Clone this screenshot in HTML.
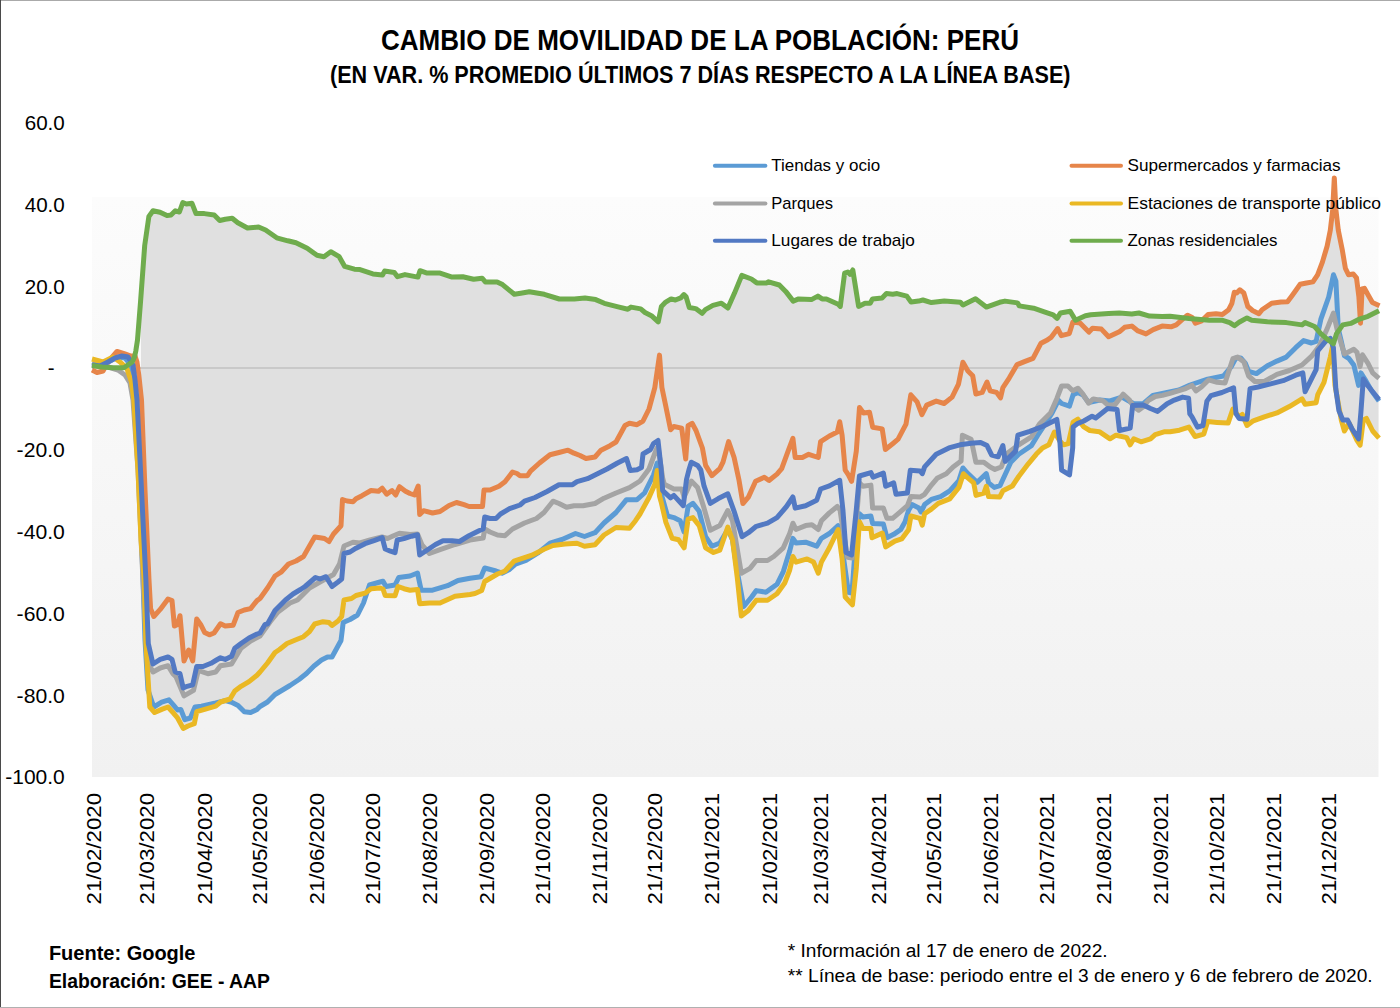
<!DOCTYPE html>
<html><head><meta charset="utf-8"><title>Cambio de movilidad de la población: Perú</title>
<style>
html,body{margin:0;padding:0;background:#fff;}
body{width:1400px;height:1008px;overflow:hidden;position:relative;font-family:"Liberation Sans", sans-serif;}
svg{position:absolute;left:0;top:0;display:block;}
svg text{font-family:"Liberation Sans", sans-serif;fill:#000;}
</style></head><body>
<svg width="1400" height="1008" viewBox="0 0 1400 1008">
<defs>
<linearGradient id="pbg" x1="0" y1="0" x2="0" y2="1">
<stop offset="0" stop-color="#fcfcfc"/><stop offset="1" stop-color="#f1f1f1"/>
</linearGradient>
</defs>
<rect x="0" y="0" width="1400" height="1008" fill="#fff"/>
<rect x="92" y="197" width="1286.5" height="580" fill="url(#pbg)"/>
<path d="M141.0,295.6 L141.5,288.8 L142.0,282.0 L142.5,275.3 L143.0,268.5 L143.5,261.7 L144.0,255.0 L144.5,248.2 L145.0,243.4 L145.5,240.0 L146.0,236.5 L146.5,233.0 L147.0,229.6 L147.5,226.1 L148.0,222.6 L148.5,219.2 L149.0,216.3 L149.5,215.6 L150.0,214.9 L150.5,214.2 L151.0,213.5 L151.5,212.8 L152.0,212.2 L152.5,211.5 L153.0,210.8 L153.5,210.9 L154.0,211.0 L154.5,211.1 L155.0,211.2 L155.5,211.3 L156.0,211.4 L156.5,211.5 L157.0,211.6 L157.5,211.7 L158.0,211.8 L158.5,211.9 L159.0,212.0 L159.5,212.1 L160.0,212.2 L160.5,212.4 L161.0,212.7 L161.5,212.9 L162.0,213.2 L162.5,213.4 L163.0,213.7 L163.5,213.9 L164.0,214.1 L164.5,214.4 L165.0,214.6 L165.5,214.9 L166.0,215.1 L166.5,215.4 L167.0,215.6 L167.5,215.5 L168.0,215.4 L168.5,215.4 L169.0,215.3 L169.5,215.2 L170.0,215.2 L170.5,215.1 L171.0,215.0 L171.5,214.5 L172.0,214.0 L172.5,213.5 L173.0,213.0 L173.5,212.6 L174.0,212.1 L174.5,211.6 L175.0,211.1 L175.5,210.9 L176.0,211.0 L176.5,211.2 L177.0,211.3 L177.5,211.4 L178.0,211.6 L178.5,211.7 L179.0,211.9 L179.5,211.7 L180.0,210.3 L180.5,208.9 L181.0,207.5 L181.5,206.1 L182.0,204.7 L182.5,203.3 L183.0,202.6 L183.5,202.8 L184.0,203.0 L184.5,203.2 L185.0,203.4 L185.5,203.6 L186.0,203.8 L186.5,204.0 L187.0,203.9 L187.5,203.9 L188.0,203.8 L188.5,203.7 L189.0,203.7 L189.5,203.6 L190.0,203.6 L190.5,203.5 L191.0,203.4 L191.5,203.4 L192.0,203.3 L192.5,204.6 L193.0,205.9 L193.5,207.2 L194.0,208.4 L194.5,209.7 L195.0,211.0 L195.5,212.3 L196.0,213.6 L196.5,213.6 L197.0,213.6 L197.5,213.6 L198.0,213.6 L198.5,213.6 L199.0,213.6 L199.5,213.6 L200.0,213.6 L200.5,213.6 L201.0,213.6 L201.5,213.6 L202.0,213.6 L202.5,213.6 L203.0,213.6 L203.5,213.6 L204.0,213.6 L204.5,213.6 L205.0,213.7 L205.5,213.8 L206.0,213.8 L206.5,213.9 L207.0,214.0 L207.5,214.0 L208.0,214.1 L208.5,214.2 L209.0,214.3 L209.5,214.3 L210.0,214.4 L210.5,214.5 L211.0,214.5 L211.5,214.6 L212.0,214.7 L212.5,214.8 L213.0,214.8 L213.5,214.9 L214.0,215.0 L214.5,215.3 L215.0,215.8 L215.5,216.3 L216.0,216.8 L216.5,217.3 L217.0,217.8 L217.5,218.3 L218.0,218.8 L218.5,219.3 L219.0,219.8 L219.5,220.3 L220.0,220.4 L220.5,220.3 L221.0,220.2 L221.5,220.1 L222.0,220.0 L222.5,219.8 L223.0,219.7 L223.5,219.6 L224.0,219.5 L224.5,219.4 L225.0,219.3 L225.5,219.2 L226.0,219.1 L226.5,219.0 L227.0,219.0 L227.5,218.9 L228.0,218.8 L228.5,218.8 L229.0,218.7 L229.5,218.7 L230.0,218.6 L230.5,218.5 L231.0,218.5 L231.5,218.4 L232.0,218.3 L232.5,218.5 L233.0,218.9 L233.5,219.3 L234.0,219.7 L234.5,220.1 L235.0,220.6 L235.5,221.0 L236.0,221.4 L236.5,221.8 L237.0,222.2 L237.5,222.6 L238.0,222.9 L238.5,223.2 L239.0,223.4 L239.5,223.7 L240.0,224.0 L240.5,224.2 L241.0,224.5 L241.5,224.8 L242.0,225.1 L242.5,225.3 L243.0,225.6 L243.5,225.9 L244.0,226.1 L244.5,226.4 L245.0,226.7 L245.5,226.9 L246.0,227.2 L246.5,227.5 L247.0,227.7 L247.5,228.0 L248.0,228.0 L248.5,227.9 L249.0,227.9 L249.5,227.8 L250.0,227.8 L250.5,227.7 L251.0,227.7 L251.5,227.6 L252.0,227.6 L252.5,227.5 L253.0,227.5 L253.5,227.5 L254.0,227.4 L254.5,227.4 L255.0,227.3 L255.5,227.3 L256.0,227.2 L256.5,227.2 L257.0,227.1 L257.5,227.1 L258.0,227.1 L258.5,227.0 L259.0,227.2 L259.5,227.4 L260.0,227.6 L260.5,227.8 L261.0,228.0 L261.5,228.2 L262.0,228.5 L262.5,228.7 L263.0,228.9 L263.5,229.1 L264.0,229.3 L264.5,229.5 L265.0,229.7 L265.5,230.0 L266.0,230.3 L266.5,230.6 L267.0,231.0 L267.5,231.3 L268.0,231.7 L268.5,232.0 L269.0,232.4 L269.5,232.7 L270.0,233.1 L270.5,233.4 L271.0,233.8 L271.5,234.1 L272.0,234.5 L272.5,234.8 L273.0,235.2 L273.5,235.6 L274.0,235.9 L274.5,236.3 L275.0,236.6 L275.5,237.0 L276.0,237.3 L276.5,237.7 L277.0,237.9 L277.5,238.0 L278.0,238.2 L278.5,238.3 L279.0,238.4 L279.5,238.6 L280.0,238.7 L280.5,238.8 L281.0,239.0 L281.5,239.1 L282.0,239.2 L282.5,239.4 L283.0,239.5 L283.5,239.6 L284.0,239.8 L284.5,239.9 L285.0,240.0 L285.5,240.2 L286.0,240.3 L286.5,240.4 L287.0,240.6 L287.5,240.7 L288.0,240.8 L288.5,241.0 L289.0,241.1 L289.5,241.2 L290.0,241.3 L290.5,241.5 L291.0,241.6 L291.5,241.7 L292.0,241.8 L292.5,241.9 L293.0,242.1 L293.5,242.2 L294.0,242.3 L294.5,242.4 L295.0,242.6 L295.5,242.7 L296.0,242.8 L296.5,243.0 L297.0,243.3 L297.5,243.5 L298.0,243.8 L298.5,244.0 L299.0,244.3 L299.5,244.5 L300.0,244.8 L300.5,245.0 L301.0,245.3 L301.5,245.5 L302.0,245.7 L302.5,246.0 L303.0,246.2 L303.5,246.5 L304.0,246.7 L304.5,247.0 L305.0,247.2 L305.5,247.5 L306.0,247.7 L306.5,248.0 L307.0,248.2 L307.5,248.5 L308.0,248.9 L308.5,249.2 L309.0,249.6 L309.5,249.9 L310.0,250.3 L310.5,250.7 L311.0,251.0 L311.5,251.4 L312.0,251.7 L312.5,252.1 L313.0,252.4 L313.5,252.8 L314.0,253.2 L314.5,253.5 L315.0,253.9 L315.5,254.2 L316.0,254.6 L316.5,254.9 L317.0,255.3 L317.5,255.4 L318.0,255.5 L318.5,255.6 L319.0,255.7 L319.5,255.8 L320.0,255.9 L320.5,256.0 L321.0,256.1 L321.5,256.2 L322.0,256.3 L322.5,256.4 L323.0,256.5 L323.5,256.6 L324.0,256.6 L324.5,256.3 L325.0,255.9 L325.5,255.5 L326.0,255.2 L326.5,254.8 L327.0,254.5 L327.5,254.1 L328.0,253.7 L328.5,253.4 L329.0,253.0 L329.5,252.6 L330.0,252.3 L330.5,251.9 L331.0,251.8 L331.5,252.1 L332.0,252.4 L332.5,252.7 L333.0,253.0 L333.5,253.3 L334.0,253.6 L334.5,253.9 L335.0,254.2 L335.5,254.5 L336.0,254.8 L336.5,255.1 L337.0,255.4 L337.5,255.7 L338.0,256.0 L338.5,256.3 L339.0,256.6 L339.5,257.2 L340.0,258.1 L340.5,259.0 L341.0,259.9 L341.5,260.8 L342.0,261.6 L342.5,262.5 L343.0,263.4 L343.5,264.3 L344.0,265.2 L344.5,266.0 L345.0,266.5 L345.5,266.6 L346.0,266.8 L346.5,266.9 L347.0,267.1 L347.5,267.2 L348.0,267.4 L348.5,267.5 L349.0,267.6 L349.5,267.8 L350.0,267.9 L350.5,268.1 L351.0,268.2 L351.5,268.4 L352.0,268.5 L352.5,268.7 L353.0,268.8 L353.5,268.9 L354.0,269.1 L354.5,269.2 L355.0,269.2 L355.5,269.3 L356.0,269.3 L356.5,269.4 L357.0,269.4 L357.5,269.4 L358.0,269.5 L358.5,269.5 L359.0,269.5 L359.5,269.6 L360.0,269.6 L360.5,269.8 L361.0,269.9 L361.5,270.1 L362.0,270.3 L362.5,270.4 L363.0,270.6 L363.5,270.8 L364.0,270.9 L364.5,271.1 L365.0,271.3 L365.5,271.4 L366.0,271.6 L366.5,271.8 L367.0,271.9 L367.5,272.1 L368.0,272.3 L368.5,272.4 L369.0,272.6 L369.5,272.8 L370.0,272.9 L370.5,273.1 L371.0,273.3 L371.5,273.4 L372.0,273.6 L372.5,273.8 L373.0,273.9 L373.5,274.0 L374.0,274.0 L374.5,274.1 L375.0,274.1 L375.5,274.2 L376.0,274.3 L376.5,274.3 L377.0,274.4 L377.5,274.4 L378.0,274.5 L378.5,274.5 L379.0,274.6 L379.5,274.7 L380.0,274.7 L380.5,274.8 L381.0,274.8 L381.5,274.9 L382.0,274.9 L382.5,275.0 L383.0,274.1 L383.5,273.1 L384.0,272.2 L384.5,271.3 L385.0,271.2 L385.5,271.2 L386.0,271.3 L386.5,271.4 L387.0,271.4 L387.5,271.5 L388.0,271.6 L388.5,271.6 L389.0,271.7 L389.5,271.8 L390.0,271.8 L390.5,271.9 L391.0,272.0 L391.5,272.0 L392.0,272.1 L392.5,272.2 L393.0,272.2 L393.5,272.3 L394.0,272.4 L394.5,272.7 L395.0,273.3 L395.5,274.0 L396.0,274.7 L396.5,275.4 L397.0,276.0 L397.5,276.7 L398.0,276.6 L398.5,276.4 L399.0,276.3 L399.5,276.1 L400.0,276.0 L400.5,275.9 L401.0,275.7 L401.5,275.6 L402.0,275.4 L402.5,275.3 L403.0,275.2 L403.5,275.0 L404.0,274.9 L404.5,274.7 L405.0,274.6 L405.5,274.7 L406.0,274.8 L406.5,274.9 L407.0,275.0 L407.5,275.1 L408.0,275.2 L408.5,275.3 L409.0,275.4 L409.5,275.5 L410.0,275.6 L410.5,275.7 L411.0,275.8 L411.5,275.9 L412.0,276.0 L412.5,276.1 L413.0,276.2 L413.5,276.2 L414.0,276.3 L414.5,276.4 L415.0,276.5 L415.5,276.6 L416.0,276.7 L416.5,276.8 L417.0,276.9 L417.5,277.0 L418.0,276.8 L418.5,275.3 L419.0,273.7 L419.5,272.2 L420.0,270.7 L420.5,270.9 L421.0,271.0 L421.5,271.2 L422.0,271.4 L422.5,271.6 L423.0,271.7 L423.5,271.9 L424.0,272.1 L424.5,272.2 L425.0,272.4 L425.5,272.6 L426.0,272.8 L426.5,272.9 L427.0,272.9 L427.5,272.9 L428.0,272.9 L428.5,272.9 L429.0,272.9 L429.5,272.9 L430.0,272.9 L430.5,272.9 L431.0,272.9 L431.5,272.9 L432.0,272.9 L432.5,272.9 L433.0,272.9 L433.5,272.9 L434.0,272.9 L434.5,272.9 L435.0,272.9 L435.5,272.9 L436.0,272.9 L436.5,272.9 L437.0,272.9 L437.5,272.9 L438.0,272.9 L438.5,272.9 L439.0,272.9 L439.5,273.0 L440.0,273.1 L440.5,273.3 L441.0,273.5 L441.5,273.6 L442.0,273.8 L442.5,273.9 L443.0,274.1 L443.5,274.3 L444.0,274.4 L444.5,274.6 L445.0,274.8 L445.5,274.9 L446.0,275.1 L446.5,275.3 L447.0,275.4 L447.5,275.6 L448.0,275.8 L448.5,275.9 L449.0,276.1 L449.5,276.2 L450.0,276.4 L450.5,276.6 L451.0,276.7 L451.5,276.9 L452.0,277.1 L452.5,277.1 L453.0,277.1 L453.5,277.0 L454.0,277.0 L454.5,277.0 L455.0,277.0 L455.5,277.0 L456.0,277.0 L456.5,276.9 L457.0,276.9 L457.5,276.9 L458.0,276.9 L458.5,276.9 L459.0,276.8 L459.5,276.8 L460.0,276.8 L460.5,276.8 L461.0,276.8 L461.5,276.7 L462.0,276.7 L462.5,276.7 L463.0,276.7 L463.5,276.9 L464.0,277.0 L464.5,277.1 L465.0,277.2 L465.5,277.3 L466.0,277.5 L466.5,277.6 L467.0,277.7 L467.5,277.8 L468.0,278.0 L468.5,278.1 L469.0,278.2 L469.5,278.3 L470.0,278.4 L470.5,278.6 L471.0,278.7 L471.5,278.8 L472.0,278.9 L472.5,279.0 L473.0,279.2 L473.5,279.3 L474.0,279.2 L474.5,279.2 L475.0,279.1 L475.5,279.1 L476.0,279.0 L476.5,278.9 L477.0,278.9 L477.5,278.8 L478.0,278.7 L478.5,278.7 L479.0,278.6 L479.5,278.5 L480.0,278.5 L480.5,278.4 L481.0,278.3 L481.5,278.3 L482.0,278.2 L482.5,278.7 L483.0,279.2 L483.5,279.8 L484.0,280.4 L484.5,281.0 L485.0,281.6 L485.5,281.9 L486.0,281.9 L486.5,281.9 L487.0,281.9 L487.5,281.9 L488.0,281.9 L488.5,281.9 L489.0,281.9 L489.5,281.9 L490.0,281.9 L490.5,281.9 L491.0,281.9 L491.5,281.9 L492.0,281.9 L492.5,281.9 L493.0,281.9 L493.5,281.9 L494.0,281.9 L494.5,281.9 L495.0,281.9 L495.5,281.9 L496.0,281.9 L496.5,281.9 L497.0,281.9 L497.5,282.1 L498.0,282.3 L498.5,282.6 L499.0,282.8 L499.5,283.1 L500.0,283.4 L500.5,283.6 L501.0,283.9 L501.5,284.1 L502.0,284.4 L502.5,284.6 L503.0,285.0 L503.5,285.4 L504.0,285.8 L504.5,286.2 L505.0,286.7 L505.5,287.1 L506.0,287.5 L506.5,287.9 L507.0,288.3 L507.5,288.7 L508.0,289.1 L508.5,289.5 L509.0,289.9 L509.5,290.4 L510.0,290.8 L510.5,291.2 L511.0,291.6 L511.5,292.0 L512.0,292.4 L512.5,292.8 L513.0,293.2 L513.5,293.6 L514.0,294.1 L514.5,294.3 L515.0,294.2 L515.5,294.1 L516.0,294.0 L516.5,293.9 L517.0,293.8 L517.5,293.8 L518.0,293.7 L518.5,293.6 L519.0,293.5 L519.5,293.4 L520.0,293.3 L520.5,293.2 L521.0,293.1 L521.5,293.1 L522.0,293.0 L522.5,292.9 L523.0,292.8 L523.5,292.7 L524.0,292.6 L524.5,292.5 L525.0,292.4 L525.5,292.4 L526.0,292.3 L526.5,292.2 L527.0,292.1 L527.5,292.0 L528.0,291.9 L528.5,291.8 L529.0,291.8 L529.5,291.7 L530.0,291.8 L530.5,291.9 L531.0,292.0 L531.5,292.1 L532.0,292.2 L532.5,292.3 L533.0,292.3 L533.5,292.4 L534.0,292.5 L534.5,292.6 L535.0,292.7 L535.5,292.8 L536.0,292.9 L536.5,292.9 L537.0,293.0 L537.5,293.1 L538.0,293.2 L538.5,293.3 L539.0,293.4 L539.5,293.5 L540.0,293.6 L540.5,293.6 L541.0,293.7 L541.5,293.8 L542.0,293.9 L542.5,294.0 L543.0,294.1 L543.5,294.2 L544.0,294.2 L544.5,294.4 L545.0,294.5 L545.5,294.7 L546.0,294.8 L546.5,295.0 L547.0,295.1 L547.5,295.3 L548.0,295.5 L548.5,295.6 L549.0,295.8 L549.5,295.9 L550.0,296.1 L550.5,296.2 L551.0,296.4 L551.5,296.6 L552.0,296.7 L552.5,296.9 L553.0,297.0 L553.5,297.2 L554.0,297.3 L554.5,297.5 L555.0,297.7 L555.5,297.8 L556.0,298.0 L556.5,298.1 L557.0,298.3 L557.5,298.4 L558.0,298.6 L558.5,298.7 L559.0,298.9 L559.5,299.0 L560.0,299.0 L560.5,299.0 L561.0,299.0 L561.5,299.0 L562.0,299.0 L562.5,299.0 L563.0,299.0 L563.5,299.0 L564.0,299.0 L564.5,299.0 L565.0,299.0 L565.5,299.0 L566.0,299.0 L566.5,299.0 L567.0,299.0 L567.5,299.0 L568.0,299.0 L568.5,299.0 L569.0,299.0 L569.5,299.0 L570.0,299.0 L570.5,299.0 L571.0,299.0 L571.5,299.0 L572.0,299.0 L572.5,299.0 L573.0,299.0 L573.5,299.0 L574.0,299.0 L574.5,299.0 L575.0,298.9 L575.5,298.9 L576.0,298.9 L576.5,298.8 L577.0,298.8 L577.5,298.7 L578.0,298.7 L578.5,298.6 L579.0,298.6 L579.5,298.6 L580.0,298.5 L580.5,298.5 L581.0,298.4 L581.5,298.4 L582.0,298.4 L582.5,298.3 L583.0,298.3 L583.5,298.2 L584.0,298.2 L584.5,298.1 L585.0,298.1 L585.5,298.2 L586.0,298.2 L586.5,298.3 L587.0,298.4 L587.5,298.5 L588.0,298.5 L588.5,298.6 L589.0,298.7 L589.5,298.7 L590.0,298.8 L590.5,298.9 L591.0,298.9 L591.5,299.0 L592.0,299.1 L592.5,299.2 L593.0,299.2 L593.5,299.3 L594.0,299.4 L594.5,299.4 L595.0,299.5 L595.5,299.6 L596.0,299.7 L596.5,299.9 L597.0,300.2 L597.5,300.4 L598.0,300.6 L598.5,300.8 L599.0,301.0 L599.5,301.2 L600.0,301.5 L600.5,301.7 L601.0,301.9 L601.5,302.1 L602.0,302.3 L602.5,302.5 L603.0,302.7 L603.5,303.0 L604.0,303.2 L604.5,303.4 L605.0,303.5 L605.5,303.6 L606.0,303.8 L606.5,303.9 L607.0,304.0 L607.5,304.2 L608.0,304.3 L608.5,304.4 L609.0,304.5 L609.5,304.7 L610.0,304.8 L610.5,304.9 L611.0,305.1 L611.5,305.2 L612.0,305.3 L612.5,305.5 L613.0,305.6 L613.5,305.7 L614.0,305.9 L614.5,306.0 L615.0,306.1 L615.5,306.3 L616.0,306.4 L616.5,306.5 L617.0,306.7 L617.5,306.8 L618.0,306.9 L618.5,307.0 L619.0,307.2 L619.5,307.3 L620.0,307.4 L620.5,307.5 L621.0,307.6 L621.5,307.8 L622.0,307.9 L622.5,308.0 L623.0,308.1 L623.5,308.3 L624.0,308.4 L624.5,308.5 L625.0,308.6 L625.5,308.7 L626.0,308.9 L626.5,309.0 L627.0,309.1 L627.5,309.2 L628.0,309.2 L628.5,308.8 L629.0,308.5 L629.5,308.1 L630.0,307.8 L630.5,307.4 L631.0,307.1 L631.5,307.2 L632.0,307.3 L632.5,307.4 L633.0,307.5 L633.5,307.6 L634.0,307.7 L634.5,307.7 L635.0,307.8 L635.5,307.9 L636.0,308.0 L636.5,308.1 L637.0,308.2 L637.5,308.3 L638.0,308.4 L638.5,308.5 L639.0,308.6 L639.5,308.7 L640.0,308.8 L640.5,308.9 L641.0,309.2 L641.5,309.6 L642.0,310.0 L642.5,310.4 L643.0,310.8 L643.5,311.2 L644.0,311.7 L644.5,312.1 L645.0,312.5 L645.5,312.8 L646.0,313.0 L646.5,313.2 L647.0,313.5 L647.5,313.8 L648.0,314.0 L648.5,314.2 L649.0,314.5 L649.5,314.8 L650.0,315.0 L650.5,315.2 L651.0,315.5 L651.5,315.8 L652.0,316.2 L652.5,316.7 L653.0,317.2 L653.5,317.6 L654.0,318.1 L654.5,318.5 L655.0,319.0 L655.5,319.4 L656.0,319.9 L656.5,320.3 L657.0,320.8 L657.5,321.3 L658.0,321.7 L658.5,320.4 L659.0,318.0 L659.5,315.6 L660.0,313.2 L660.5,310.8 L661.0,308.3 L661.5,306.3 L662.0,305.8 L662.5,305.3 L663.0,304.8 L663.5,304.3 L664.0,303.8 L664.5,303.3 L665.0,302.8 L665.5,302.3 L666.0,301.9 L666.5,301.6 L667.0,301.3 L667.5,301.0 L668.0,300.7 L668.5,300.4 L669.0,300.1 L669.5,299.8 L670.0,299.6 L670.5,299.3 L671.0,299.0 L671.5,299.0 L672.0,299.1 L672.5,299.3 L673.0,299.4 L673.5,299.5 L674.0,299.6 L674.5,299.8 L675.0,299.9 L675.5,300.0 L676.0,299.8 L676.5,299.6 L677.0,299.4 L677.5,299.2 L678.0,299.0 L678.5,298.8 L679.0,298.6 L679.5,298.4 L680.0,298.2 L680.5,298.0 L681.0,297.6 L681.5,297.1 L682.0,296.6 L682.5,296.0 L683.0,295.5 L683.5,295.0 L684.0,294.7 L684.5,295.2 L685.0,295.7 L685.5,296.2 L686.0,296.7 L686.5,298.1 L687.0,299.8 L687.5,301.5 L688.0,303.2 L688.5,304.8 L689.0,306.5 L689.5,307.5 L690.0,307.6 L690.5,307.7 L691.0,307.8 L691.5,307.9 L692.0,308.0 L692.5,308.1 L693.0,308.1 L693.5,308.2 L694.0,308.3 L694.5,308.4 L695.0,308.5 L695.5,308.6 L696.0,308.8 L696.5,309.2 L697.0,309.6 L697.5,309.9 L698.0,310.3 L698.5,310.7 L699.0,311.0 L699.5,311.4 L700.0,311.8 L700.5,312.1 L701.0,312.5 L701.5,312.9 L702.0,313.2 L702.5,312.9 L703.0,312.3 L703.5,311.7 L704.0,311.2 L704.5,310.6 L705.0,310.0 L705.5,309.5 L706.0,309.3 L706.5,309.0 L707.0,308.7 L707.5,308.4 L708.0,308.1 L708.5,307.9 L709.0,307.6 L709.5,307.3 L710.0,307.0 L710.5,306.7 L711.0,306.5 L711.5,306.2 L712.0,305.9 L712.5,305.6 L713.0,305.4 L713.5,305.2 L714.0,305.1 L714.5,305.0 L715.0,304.9 L715.5,304.7 L716.0,304.6 L716.5,304.5 L717.0,304.3 L717.5,304.2 L718.0,304.1 L718.5,304.0 L719.0,303.8 L719.5,303.7 L720.0,303.6 L720.5,303.4 L721.0,303.3 L721.5,303.3 L722.0,303.7 L722.5,304.0 L723.0,304.4 L723.5,304.8 L724.0,305.2 L724.5,305.5 L725.0,305.9 L725.5,306.3 L726.0,306.7 L726.5,307.0 L727.0,307.4 L727.5,307.8 L728.0,307.9 L728.5,306.7 L729.0,305.6 L729.5,304.5 L730.0,303.3 L730.5,302.2 L731.0,301.1 L731.5,299.9 L732.0,298.8 L732.5,297.7 L733.0,296.5 L733.5,295.4 L734.0,294.3 L734.5,293.1 L735.0,291.9 L735.5,290.7 L736.0,289.5 L736.5,288.3 L737.0,287.0 L737.5,285.8 L738.0,284.6 L738.5,283.4 L739.0,282.2 L739.5,281.0 L740.0,279.8 L740.5,278.6 L741.0,277.3 L741.5,276.1 L742.0,275.5 L742.5,275.7 L743.0,275.9 L743.5,276.0 L744.0,276.2 L744.5,276.4 L745.0,276.6 L745.5,276.8 L746.0,277.0 L746.5,277.2 L747.0,277.4 L747.5,277.5 L748.0,277.7 L748.5,277.9 L749.0,278.1 L749.5,278.3 L750.0,278.5 L750.5,278.7 L751.0,278.9 L751.5,279.1 L752.0,279.4 L752.5,279.8 L753.0,280.2 L753.5,280.5 L754.0,280.9 L754.5,281.2 L755.0,281.6 L755.5,282.0 L756.0,282.3 L756.5,282.7 L757.0,282.9 L757.5,282.9 L758.0,282.9 L758.5,282.9 L759.0,282.9 L759.5,282.9 L760.0,282.9 L760.5,282.9 L761.0,282.9 L761.5,282.9 L762.0,282.9 L762.5,282.9 L763.0,282.9 L763.5,282.9 L764.0,282.9 L764.5,282.9 L765.0,282.9 L765.5,282.9 L766.0,282.9 L766.5,282.8 L767.0,282.6 L767.5,282.4 L768.0,282.1 L768.5,281.9 L769.0,281.9 L769.5,282.1 L770.0,282.2 L770.5,282.4 L771.0,282.5 L771.5,282.7 L772.0,282.8 L772.5,283.0 L773.0,283.1 L773.5,283.3 L774.0,283.4 L774.5,283.6 L775.0,283.7 L775.5,283.9 L776.0,284.0 L776.5,284.2 L777.0,284.3 L777.5,284.5 L778.0,284.6 L778.5,284.8 L779.0,284.9 L779.5,285.2 L780.0,285.7 L780.5,286.2 L781.0,286.7 L781.5,287.2 L782.0,287.7 L782.5,288.2 L783.0,288.7 L783.5,289.2 L784.0,289.7 L784.5,290.2 L785.0,290.7 L785.5,291.2 L786.0,291.8 L786.5,292.4 L787.0,293.1 L787.5,293.7 L788.0,294.4 L788.5,295.0 L789.0,295.7 L789.5,296.3 L790.0,297.0 L790.5,297.6 L791.0,298.3 L791.5,298.9 L792.0,299.5 L792.5,300.2 L793.0,300.8 L793.5,301.0 L794.0,300.8 L794.5,300.6 L795.0,300.4 L795.5,300.2 L796.0,300.0 L796.5,299.8 L797.0,299.6 L797.5,299.3 L798.0,299.1 L798.5,298.9 L799.0,298.9 L799.5,298.9 L800.0,299.0 L800.5,299.0 L801.0,299.0 L801.5,299.1 L802.0,299.1 L802.5,299.1 L803.0,299.1 L803.5,299.2 L804.0,299.2 L804.5,299.2 L805.0,299.2 L805.5,299.3 L806.0,299.3 L806.5,299.3 L807.0,299.4 L807.5,299.4 L808.0,299.4 L808.5,299.4 L809.0,299.5 L809.5,299.5 L810.0,299.5 L810.5,299.6 L811.0,299.6 L811.5,299.5 L812.0,299.3 L812.5,299.0 L813.0,298.7 L813.5,298.5 L814.0,298.2 L814.5,297.9 L815.0,297.7 L815.5,297.4 L816.0,297.1 L816.5,296.9 L817.0,296.6 L817.5,296.3 L818.0,296.2 L818.5,296.5 L819.0,296.8 L819.5,297.2 L820.0,297.5 L820.5,297.8 L821.0,298.2 L821.5,298.5 L822.0,298.8 L822.5,298.9 L823.0,298.9 L823.5,298.9 L824.0,298.9 L824.5,298.9 L825.0,298.9 L825.5,298.9 L826.0,298.9 L826.5,298.9 L827.0,299.2 L827.5,299.4 L828.0,299.6 L828.5,299.9 L829.0,300.1 L829.5,300.3 L830.0,300.5 L830.5,300.8 L831.0,301.0 L831.5,301.2 L832.0,301.5 L832.5,301.7 L833.0,301.9 L833.5,302.1 L834.0,302.4 L834.5,302.6 L835.0,302.8 L835.5,303.1 L836.0,303.3 L836.5,303.5 L837.0,303.8 L837.5,304.0 L838.0,304.2 L838.5,304.6 L839.0,305.1 L839.5,305.6 L840.0,306.1 L840.5,304.9 L841.0,301.0 L841.5,297.1 L842.0,293.3 L842.5,289.4 L843.0,285.6 L843.5,281.7 L844.0,277.8 L844.5,274.0 L845.0,273.1 L845.5,272.9 L846.0,272.7 L846.5,272.5 L847.0,272.4 L847.5,272.2 L848.0,272.3 L848.5,272.8 L849.0,273.3 L849.5,273.8 L850.0,274.3 L850.5,273.5 L851.0,272.8 L851.5,272.0 L852.0,271.2 L852.5,270.5 L853.0,271.3 L853.5,274.4 L854.0,277.5 L854.5,280.7 L855.0,283.8 L855.5,286.9 L856.0,290.1 L856.5,293.2 L857.0,296.4 L857.5,299.5 L858.0,302.6 L858.5,305.8 L859.0,306.2 L859.5,305.9 L860.0,305.7 L860.5,305.4 L861.0,305.2 L861.5,304.9 L862.0,304.7 L862.5,304.4 L863.0,304.2 L863.5,303.9 L864.0,303.7 L864.5,303.4 L865.0,303.2 L865.5,303.2 L866.0,303.2 L866.5,303.2 L867.0,303.2 L867.5,303.2 L868.0,303.2 L868.5,303.2 L869.0,303.2 L869.5,303.2 L870.0,303.2 L870.5,302.8 L871.0,301.8 L871.5,300.9 L872.0,299.9 L872.5,298.9 L873.0,298.8 L873.5,298.8 L874.0,298.7 L874.5,298.7 L875.0,298.6 L875.5,298.6 L876.0,298.5 L876.5,298.5 L877.0,298.4 L877.5,298.4 L878.0,298.3 L878.5,298.3 L879.0,298.2 L879.5,298.2 L880.0,298.1 L880.5,298.1 L881.0,298.0 L881.5,298.0 L882.0,297.9 L882.5,297.5 L883.0,297.0 L883.5,296.5 L884.0,296.0 L884.5,295.5 L885.0,295.0 L885.5,294.5 L886.0,294.0 L886.5,293.6 L887.0,293.7 L887.5,293.7 L888.0,293.8 L888.5,293.8 L889.0,293.8 L889.5,293.9 L890.0,293.9 L890.5,294.0 L891.0,294.0 L891.5,294.1 L892.0,294.1 L892.5,294.2 L893.0,294.2 L893.5,294.1 L894.0,294.0 L894.5,294.0 L895.0,293.9 L895.5,293.8 L896.0,293.8 L896.5,293.7 L897.0,293.6 L897.5,293.7 L898.0,293.8 L898.5,294.0 L899.0,294.1 L899.5,294.2 L900.0,294.3 L900.5,294.5 L901.0,294.6 L901.5,294.7 L902.0,294.9 L902.5,295.0 L903.0,295.1 L903.5,295.2 L904.0,295.4 L904.5,295.5 L905.0,295.6 L905.5,295.8 L906.0,295.9 L906.5,296.0 L907.0,296.4 L907.5,297.1 L908.0,297.8 L908.5,298.5 L909.0,299.2 L909.5,299.9 L910.0,300.6 L910.5,301.3 L911.0,302.0 L911.5,302.0 L912.0,302.0 L912.5,301.9 L913.0,301.8 L913.5,301.8 L914.0,301.7 L914.5,301.6 L915.0,301.6 L915.5,301.5 L916.0,301.4 L916.5,301.4 L917.0,301.3 L917.5,301.2 L918.0,301.2 L918.5,301.1 L919.0,301.0 L919.5,300.9 L920.0,300.7 L920.5,300.6 L921.0,300.5 L921.5,300.4 L922.0,300.2 L922.5,300.1 L923.0,300.0 L923.5,300.2 L924.0,300.3 L924.5,300.5 L925.0,300.6 L925.5,300.8 L926.0,300.9 L926.5,301.1 L927.0,301.3 L927.5,301.4 L928.0,301.6 L928.5,301.7 L929.0,301.9 L929.5,302.0 L930.0,302.2 L930.5,302.3 L931.0,302.5 L931.5,302.6 L932.0,302.5 L932.5,302.5 L933.0,302.4 L933.5,302.4 L934.0,302.3 L934.5,302.2 L935.0,302.2 L935.5,302.1 L936.0,302.1 L936.5,302.0 L937.0,301.9 L937.5,301.9 L938.0,301.8 L938.5,301.8 L939.0,301.7 L939.5,301.7 L940.0,301.6 L940.5,301.5 L941.0,301.5 L941.5,301.4 L942.0,301.4 L942.5,301.3 L943.0,301.3 L943.5,301.2 L944.0,301.1 L944.5,301.1 L945.0,301.2 L945.5,301.2 L946.0,301.2 L946.5,301.3 L947.0,301.3 L947.5,301.3 L948.0,301.4 L948.5,301.4 L949.0,301.5 L949.5,301.5 L950.0,301.5 L950.5,301.6 L951.0,301.6 L951.5,301.6 L952.0,301.7 L952.5,301.7 L953.0,301.7 L953.5,301.8 L954.0,301.8 L954.5,301.9 L955.0,301.9 L955.5,301.9 L956.0,302.0 L956.5,302.0 L957.0,302.0 L957.5,302.1 L958.0,302.1 L958.5,302.2 L959.0,302.2 L959.5,302.2 L960.0,302.3 L960.5,302.4 L961.0,302.9 L961.5,303.4 L962.0,304.0 L962.5,304.5 L963.0,305.0 L963.5,304.8 L964.0,304.5 L964.5,304.3 L965.0,304.0 L965.5,303.8 L966.0,303.5 L966.5,303.3 L967.0,303.0 L967.5,302.8 L968.0,302.5 L968.5,302.3 L969.0,302.0 L969.5,301.8 L970.0,301.5 L970.5,301.3 L971.0,301.0 L971.5,300.8 L972.0,300.5 L972.5,300.3 L973.0,300.0 L973.5,299.8 L974.0,299.5 L974.5,299.3 L975.0,299.0 L975.5,298.8 L976.0,299.2 L976.5,299.6 L977.0,300.0 L977.5,300.3 L978.0,300.7 L978.5,301.1 L979.0,301.5 L979.5,301.9 L980.0,302.3 L980.5,302.6 L981.0,303.0 L981.5,303.4 L982.0,303.8 L982.5,304.2 L983.0,304.6 L983.5,304.9 L984.0,305.3 L984.5,305.7 L985.0,306.1 L985.5,306.5 L986.0,306.9 L986.5,307.0 L987.0,306.8 L987.5,306.7 L988.0,306.5 L988.5,306.3 L989.0,306.1 L989.5,305.9 L990.0,305.8 L990.5,305.6 L991.0,305.4 L991.5,305.2 L992.0,305.0 L992.5,304.9 L993.0,304.7 L993.5,304.5 L994.0,304.3 L994.5,304.1 L995.0,304.0 L995.5,303.8 L996.0,303.6 L996.5,303.4 L997.0,303.2 L997.5,303.1 L998.0,302.9 L998.5,302.7 L999.0,302.5 L999.5,302.3 L1000.0,302.2 L1000.5,302.1 L1001.0,302.0 L1001.5,301.9 L1002.0,301.8 L1002.5,301.7 L1003.0,301.5 L1003.5,301.4 L1004.0,301.3 L1004.5,301.2 L1005.0,301.1 L1005.5,301.2 L1006.0,301.2 L1006.5,301.3 L1007.0,301.4 L1007.5,301.5 L1008.0,301.5 L1008.5,301.6 L1009.0,301.7 L1009.5,301.7 L1010.0,301.8 L1010.5,301.9 L1011.0,302.0 L1011.5,302.0 L1012.0,302.1 L1012.5,302.2 L1013.0,302.3 L1013.5,302.3 L1014.0,302.4 L1014.5,302.5 L1015.0,302.5 L1015.5,302.6 L1016.0,302.7 L1016.5,302.8 L1017.0,302.8 L1017.5,302.9 L1018.0,303.7 L1018.5,304.6 L1019.0,305.4 L1019.5,305.9 L1020.0,306.0 L1020.5,306.1 L1021.0,306.2 L1021.5,306.3 L1022.0,306.3 L1022.5,306.4 L1023.0,306.5 L1023.5,306.6 L1024.0,306.7 L1024.5,306.7 L1025.0,306.8 L1025.5,306.9 L1026.0,307.0 L1026.5,307.1 L1027.0,307.1 L1027.5,307.2 L1028.0,307.3 L1028.5,307.4 L1029.0,307.5 L1029.5,307.5 L1030.0,307.6 L1030.5,307.7 L1031.0,307.8 L1031.5,307.9 L1032.0,307.9 L1032.5,308.0 L1033.0,308.1 L1033.5,308.2 L1034.0,308.3 L1034.5,308.5 L1035.0,308.7 L1035.5,308.8 L1036.0,309.0 L1036.5,309.2 L1037.0,309.3 L1037.5,309.5 L1038.0,309.7 L1038.5,309.8 L1039.0,310.0 L1039.5,310.2 L1040.0,310.4 L1040.5,310.5 L1041.0,310.7 L1041.5,310.9 L1042.0,311.0 L1042.5,311.2 L1043.0,311.4 L1043.5,311.5 L1044.0,311.7 L1044.5,311.9 L1045.0,312.0 L1045.5,312.2 L1046.0,312.4 L1046.5,312.5 L1047.0,312.7 L1047.5,312.9 L1048.0,313.0 L1048.5,313.2 L1049.0,313.4 L1049.5,313.6 L1050.0,313.7 L1050.5,313.9 L1051.0,314.1 L1051.5,314.2 L1052.0,314.4 L1052.5,314.6 L1053.0,314.7 L1053.5,315.1 L1054.0,315.5 L1054.5,316.0 L1055.0,316.5 L1055.5,316.9 L1056.0,317.4 L1056.5,317.8 L1057.0,318.3 L1057.5,317.7 L1058.0,316.9 L1058.5,316.1 L1059.0,315.3 L1059.5,314.5 L1060.0,313.7 L1060.5,313.0 L1061.0,312.9 L1061.5,312.8 L1062.0,312.7 L1062.5,312.6 L1063.0,312.5 L1063.5,312.5 L1064.0,312.4 L1064.5,312.3 L1065.0,312.2 L1065.5,312.1 L1066.0,312.0 L1066.5,311.9 L1067.0,311.9 L1067.5,311.8 L1068.0,311.7 L1068.5,311.6 L1069.0,311.5 L1069.5,311.4 L1070.0,311.3 L1070.5,311.8 L1071.0,312.6 L1071.5,313.4 L1072.0,314.2 L1072.5,315.0 L1073.0,315.9 L1073.5,316.7 L1074.0,317.6 L1074.5,318.5 L1075.0,319.3 L1075.5,320.2 L1076.0,320.0 L1076.5,319.7 L1077.0,319.5 L1077.5,319.3 L1078.0,319.1 L1078.5,318.8 L1079.0,318.6 L1079.5,318.4 L1080.0,318.2 L1080.5,317.9 L1081.0,317.7 L1081.5,317.5 L1082.0,317.2 L1082.5,317.0 L1083.0,316.8 L1083.5,316.6 L1084.0,316.3 L1084.5,316.1 L1085.0,315.9 L1085.5,315.7 L1086.0,315.6 L1086.5,315.5 L1087.0,315.4 L1087.5,315.3 L1088.0,315.3 L1088.5,315.2 L1089.0,315.1 L1089.5,315.0 L1090.0,314.9 L1090.5,314.8 L1091.0,314.8 L1091.5,314.7 L1092.0,314.7 L1092.5,314.7 L1093.0,314.6 L1093.5,314.6 L1094.0,314.6 L1094.5,314.5 L1095.0,314.5 L1095.5,314.5 L1096.0,314.4 L1096.5,314.4 L1097.0,314.4 L1097.5,314.3 L1098.0,314.3 L1098.5,314.3 L1099.0,314.2 L1099.5,314.2 L1100.0,314.2 L1100.5,314.1 L1101.0,314.1 L1101.5,314.1 L1102.0,314.0 L1102.5,314.0 L1103.0,314.0 L1103.5,313.9 L1104.0,313.9 L1104.5,313.9 L1105.0,313.8 L1105.5,313.8 L1106.0,313.8 L1106.5,313.7 L1107.0,313.7 L1107.5,313.7 L1108.0,313.6 L1108.5,313.6 L1109.0,313.6 L1109.5,313.5 L1110.0,313.5 L1110.5,313.5 L1111.0,313.5 L1111.5,313.4 L1112.0,313.4 L1112.5,313.4 L1113.0,313.4 L1113.5,313.3 L1114.0,313.3 L1114.5,313.3 L1115.0,313.2 L1115.5,313.2 L1116.0,313.2 L1116.5,313.2 L1117.0,313.1 L1117.5,313.1 L1118.0,313.1 L1118.5,313.0 L1119.0,313.0 L1119.5,313.0 L1120.0,313.1 L1120.5,313.1 L1121.0,313.1 L1121.5,313.2 L1122.0,313.2 L1122.5,313.2 L1123.0,313.3 L1123.5,313.3 L1124.0,313.3 L1124.5,313.4 L1125.0,313.4 L1125.5,313.4 L1126.0,313.5 L1126.5,313.5 L1127.0,313.6 L1127.5,313.6 L1128.0,313.6 L1128.5,313.7 L1129.0,313.7 L1129.5,313.7 L1130.0,313.8 L1130.5,313.8 L1131.0,313.8 L1131.5,313.9 L1132.0,313.9 L1132.5,313.8 L1133.0,313.7 L1133.5,313.7 L1134.0,313.6 L1134.5,313.6 L1135.0,313.5 L1135.5,313.4 L1136.0,313.4 L1136.5,313.3 L1137.0,313.2 L1137.5,313.2 L1138.0,313.1 L1138.5,313.1 L1139.0,313.0 L1139.5,313.2 L1140.0,313.3 L1140.5,313.5 L1141.0,313.6 L1141.5,313.8 L1142.0,313.9 L1142.5,314.0 L1143.0,314.2 L1143.5,314.3 L1144.0,314.5 L1144.5,314.6 L1145.0,314.8 L1145.5,314.9 L1146.0,315.1 L1146.5,315.2 L1147.0,315.3 L1147.5,315.5 L1148.0,315.6 L1148.5,315.8 L1149.0,315.9 L1149.5,316.1 L1150.0,316.1 L1150.5,316.1 L1151.0,316.2 L1151.5,316.2 L1152.0,316.2 L1152.5,316.2 L1153.0,316.2 L1153.5,316.3 L1154.0,316.3 L1154.5,316.3 L1155.0,316.3 L1155.5,316.3 L1156.0,316.4 L1156.5,316.4 L1157.0,316.4 L1157.5,316.4 L1158.0,316.4 L1158.5,316.5 L1159.0,316.5 L1159.5,316.5 L1160.0,316.5 L1160.5,316.5 L1161.0,316.6 L1161.5,316.6 L1162.0,316.6 L1162.5,316.6 L1163.0,316.6 L1163.5,316.5 L1164.0,316.5 L1164.5,316.5 L1165.0,316.5 L1165.5,316.5 L1166.0,316.5 L1166.5,316.4 L1167.0,316.4 L1167.5,316.4 L1168.0,316.4 L1168.5,316.4 L1169.0,316.3 L1169.5,316.3 L1170.0,316.3 L1170.5,316.4 L1171.0,316.4 L1171.5,316.5 L1172.0,316.5 L1172.5,316.6 L1173.0,316.7 L1173.5,316.7 L1174.0,316.8 L1174.5,316.8 L1175.0,316.9 L1175.5,317.0 L1176.0,317.0 L1176.5,317.1 L1177.0,317.2 L1177.5,317.2 L1178.0,317.3 L1178.5,317.3 L1179.0,317.4 L1179.5,317.5 L1180.0,317.5 L1180.5,317.6 L1181.0,317.6 L1181.5,317.7 L1182.0,317.8 L1182.5,317.8 L1183.0,317.9 L1183.5,317.9 L1184.0,318.0 L1184.5,317.7 L1185.0,317.3 L1185.5,316.9 L1186.0,316.4 L1186.5,316.0 L1187.0,315.6 L1187.5,315.2 L1188.0,315.5 L1188.5,315.7 L1189.0,316.0 L1189.5,316.2 L1190.0,316.5 L1190.5,316.7 L1191.0,317.0 L1191.5,317.2 L1192.0,317.5 L1192.5,318.1 L1193.0,318.9 L1193.5,319.0 L1194.0,319.0 L1194.5,319.0 L1195.0,319.1 L1195.5,319.1 L1196.0,319.2 L1196.5,319.2 L1197.0,319.2 L1197.5,319.3 L1198.0,319.3 L1198.5,319.4 L1199.0,319.4 L1199.5,319.4 L1200.0,319.5 L1200.5,319.5 L1201.0,319.5 L1201.5,319.6 L1202.0,319.6 L1202.5,319.7 L1203.0,319.5 L1203.5,319.0 L1204.0,318.5 L1204.5,318.0 L1205.0,317.5 L1205.5,317.0 L1206.0,316.5 L1206.5,316.0 L1207.0,315.5 L1207.5,315.0 L1208.0,314.5 L1208.5,314.4 L1209.0,314.3 L1209.5,314.3 L1210.0,314.2 L1210.5,314.2 L1211.0,314.1 L1211.5,314.1 L1212.0,314.1 L1212.5,314.0 L1213.0,314.0 L1213.5,313.9 L1214.0,313.9 L1214.5,313.8 L1215.0,313.8 L1215.5,313.7 L1216.0,313.7 L1216.5,313.8 L1217.0,313.8 L1217.5,313.9 L1218.0,313.9 L1218.5,314.0 L1219.0,314.0 L1219.5,314.1 L1220.0,314.1 L1220.5,314.2 L1221.0,314.2 L1221.5,314.3 L1222.0,314.4 L1222.5,314.3 L1223.0,314.0 L1223.5,313.6 L1224.0,313.2 L1224.5,312.8 L1225.0,312.5 L1225.5,312.1 L1226.0,311.7 L1226.5,311.3 L1227.0,311.0 L1227.5,310.6 L1228.0,310.2 L1228.5,309.8 L1229.0,309.1 L1229.5,308.1 L1230.0,307.1 L1230.5,306.1 L1231.0,305.1 L1231.5,304.1 L1232.0,302.8 L1232.5,300.5 L1233.0,298.2 L1233.5,295.9 L1234.0,293.6 L1234.5,292.3 L1235.0,292.4 L1235.5,292.6 L1236.0,292.8 L1236.5,292.9 L1237.0,292.7 L1237.5,292.2 L1238.0,291.7 L1238.5,291.1 L1239.0,290.6 L1239.5,290.1 L1240.0,290.0 L1240.5,290.4 L1241.0,290.8 L1241.5,291.2 L1242.0,291.6 L1242.5,292.0 L1243.0,292.4 L1243.5,292.8 L1244.0,293.7 L1244.5,295.4 L1245.0,297.1 L1245.5,298.7 L1246.0,300.4 L1246.5,302.1 L1247.0,303.8 L1247.5,305.5 L1248.0,306.7 L1248.5,307.1 L1249.0,307.5 L1249.5,307.9 L1250.0,308.4 L1250.5,308.8 L1251.0,309.2 L1251.5,309.6 L1252.0,310.1 L1252.5,310.5 L1253.0,310.8 L1253.5,311.0 L1254.0,311.2 L1254.5,311.5 L1255.0,311.8 L1255.5,312.0 L1256.0,312.2 L1256.5,312.5 L1257.0,312.7 L1257.5,313.0 L1258.0,313.2 L1258.5,313.5 L1259.0,313.6 L1259.5,313.0 L1260.0,312.3 L1260.5,311.7 L1261.0,311.1 L1261.5,310.4 L1262.0,309.8 L1262.5,309.4 L1263.0,309.1 L1263.5,308.8 L1264.0,308.4 L1264.5,308.1 L1265.0,307.7 L1265.5,307.4 L1266.0,307.1 L1266.5,306.7 L1267.0,306.4 L1267.5,306.1 L1268.0,305.7 L1268.5,305.4 L1269.0,305.1 L1269.5,304.7 L1270.0,304.4 L1270.5,304.0 L1271.0,303.7 L1271.5,303.4 L1272.0,303.2 L1272.5,303.2 L1273.0,303.1 L1273.5,303.1 L1274.0,303.0 L1274.5,302.9 L1275.0,302.9 L1275.5,302.8 L1276.0,302.7 L1276.5,302.7 L1277.0,302.6 L1277.5,302.6 L1278.0,302.5 L1278.5,302.4 L1279.0,302.4 L1279.5,302.3 L1280.0,302.2 L1280.5,302.2 L1281.0,302.1 L1281.5,302.1 L1282.0,302.0 L1282.5,302.0 L1283.0,302.0 L1283.5,301.9 L1284.0,301.9 L1284.5,301.9 L1285.0,301.9 L1285.5,301.8 L1286.0,301.8 L1286.5,301.8 L1287.0,301.7 L1287.5,301.7 L1288.0,301.0 L1288.5,300.4 L1289.0,299.7 L1289.5,299.0 L1290.0,298.3 L1290.5,297.7 L1291.0,297.0 L1291.5,296.3 L1292.0,295.7 L1292.5,295.0 L1293.0,294.3 L1293.5,293.6 L1294.0,292.9 L1294.5,292.2 L1295.0,291.5 L1295.5,290.8 L1296.0,290.1 L1296.5,289.4 L1297.0,288.7 L1297.5,288.0 L1298.0,287.4 L1298.5,286.7 L1299.0,286.0 L1299.5,285.3 L1300.0,284.6 L1300.5,284.2 L1301.0,284.1 L1301.5,284.0 L1302.0,283.9 L1302.5,283.8 L1303.0,283.7 L1303.5,283.6 L1304.0,283.5 L1304.5,283.4 L1305.0,283.3 L1305.5,283.2 L1306.0,283.1 L1306.5,283.0 L1307.0,282.9 L1307.5,282.8 L1308.0,282.7 L1308.5,282.7 L1309.0,282.6 L1309.5,282.5 L1310.0,282.4 L1310.5,282.3 L1311.0,282.2 L1311.5,282.1 L1312.0,282.1 L1312.5,282.0 L1313.0,281.7 L1313.5,281.0 L1314.0,280.2 L1314.5,279.5 L1315.0,278.7 L1315.5,278.0 L1316.0,277.2 L1316.5,276.5 L1317.0,275.7 L1317.5,275.0 L1318.0,273.7 L1318.5,272.4 L1319.0,271.1 L1319.5,269.8 L1320.0,268.4 L1320.5,267.1 L1321.0,265.8 L1321.5,264.5 L1322.0,263.2 L1322.5,261.8 L1323.0,260.1 L1323.5,258.4 L1324.0,256.7 L1324.5,255.0 L1325.0,253.3 L1325.5,251.6 L1326.0,249.9 L1326.5,248.2 L1327.0,246.5 L1327.5,244.2 L1328.0,241.7 L1328.5,239.2 L1329.0,236.8 L1329.5,234.3 L1330.0,231.8 L1330.5,228.6 L1331.0,224.3 L1331.5,220.0 L1332.0,215.7 L1332.5,211.4 L1333.0,203.7 L1333.5,193.8 L1334.0,183.9 L1334.5,181.9 L1335.0,191.8 L1335.5,201.7 L1336.0,210.6 L1336.5,214.8 L1337.0,219.1 L1337.5,223.4 L1338.0,227.7 L1338.5,231.3 L1339.0,233.7 L1339.5,236.2 L1340.0,238.6 L1340.5,241.1 L1341.0,243.5 L1341.5,246.0 L1342.0,248.4 L1342.5,251.2 L1343.0,254.1 L1343.5,257.1 L1344.0,260.1 L1344.5,263.1 L1345.0,266.0 L1345.5,268.6 L1346.0,269.6 L1346.5,270.6 L1347.0,271.6 L1347.5,272.6 L1348.0,273.6 L1348.5,274.6 L1349.0,274.7 L1349.5,274.6 L1350.0,274.6 L1350.5,274.5 L1351.0,274.4 L1351.5,274.3 L1352.0,274.2 L1352.5,274.1 L1353.0,274.1 L1353.5,274.2 L1354.0,274.9 L1354.5,275.5 L1355.0,276.1 L1355.5,276.7 L1356.0,277.3 L1356.5,277.9 L1357.0,281.9 L1357.5,285.9 L1358.0,289.8 L1358.5,293.8 L1359.0,298.6 L1359.5,306.8 L1360.0,315.0 L1360.5,318.8 L1361.0,312.5 L1361.5,301.8 L1362.0,291.1 L1362.5,288.9 L1363.0,288.7 L1363.5,288.6 L1364.0,288.4 L1364.5,288.5 L1365.0,289.4 L1365.5,290.3 L1366.0,291.1 L1366.5,292.0 L1367.0,292.9 L1367.5,293.8 L1368.0,294.7 L1368.5,295.6 L1369.0,296.5 L1369.5,297.4 L1370.0,298.2 L1370.5,299.1 L1371.0,300.0 L1371.5,300.9 L1372.0,301.8 L1372.5,302.5 L1373.0,302.8 L1373.5,303.0 L1374.0,303.2 L1374.5,303.4 L1375.0,303.7 L1375.5,303.9 L1376.0,304.1 L1376.5,304.3 L1377.0,304.6 L1377.5,304.8 L1378.0,305.0 L1378.5,305.2 L1378.5,437.5 L1378.0,437.0 L1377.5,436.4 L1377.0,435.8 L1376.5,435.3 L1376.0,434.7 L1375.5,434.2 L1375.0,433.6 L1374.5,433.0 L1374.0,432.5 L1373.5,431.9 L1373.0,431.3 L1372.5,430.6 L1372.0,429.6 L1371.5,428.6 L1371.0,427.6 L1370.5,426.6 L1370.0,425.6 L1369.5,424.6 L1369.0,423.6 L1368.5,422.6 L1368.0,421.6 L1367.5,420.6 L1367.0,419.6 L1366.5,418.6 L1366.0,418.6 L1365.5,418.9 L1365.0,419.1 L1364.5,419.4 L1364.0,419.6 L1363.5,419.9 L1363.0,422.4 L1362.5,426.3 L1362.0,430.2 L1361.5,434.1 L1361.0,438.0 L1360.5,442.0 L1360.0,444.9 L1359.5,444.2 L1359.0,443.4 L1358.5,442.7 L1358.0,441.9 L1357.5,441.2 L1357.0,440.4 L1356.5,439.3 L1356.0,438.2 L1355.5,437.1 L1355.0,436.0 L1354.5,434.9 L1354.0,433.8 L1353.5,432.7 L1353.0,431.6 L1352.5,430.5 L1352.0,429.5 L1351.5,428.4 L1351.0,427.3 L1350.5,426.2 L1350.0,425.1 L1349.5,424.0 L1349.0,423.3 L1348.5,424.1 L1348.0,424.9 L1347.5,425.8 L1347.0,426.6 L1346.5,427.5 L1346.0,428.3 L1345.5,429.2 L1345.0,430.0 L1344.5,430.8 L1344.0,429.6 L1343.5,427.8 L1343.0,426.0 L1342.5,424.3 L1342.0,422.5 L1341.5,420.7 L1341.0,418.4 L1340.5,415.6 L1340.0,413.3 L1339.5,412.0 L1339.0,410.8 L1338.5,407.8 L1338.0,404.2 L1337.5,400.7 L1337.0,397.1 L1336.5,393.6 L1336.0,390.9 L1335.5,388.1 L1335.0,385.4 L1334.5,377.2 L1334.0,369.0 L1333.5,360.8 L1333.0,352.7 L1332.5,346.6 L1332.0,349.0 L1331.5,351.4 L1331.0,353.8 L1330.5,356.1 L1330.0,358.3 L1329.5,360.3 L1329.0,362.3 L1328.5,364.3 L1328.0,366.3 L1327.5,368.3 L1327.0,370.3 L1326.5,372.3 L1326.0,374.3 L1325.5,376.3 L1325.0,378.3 L1324.5,380.3 L1324.0,382.3 L1323.5,383.3 L1323.0,384.3 L1322.5,385.3 L1322.0,386.3 L1321.5,387.3 L1321.0,388.3 L1320.5,389.3 L1320.0,390.3 L1319.5,391.3 L1319.0,392.3 L1318.5,393.3 L1318.0,394.3 L1317.5,395.9 L1317.0,398.3 L1316.5,400.7 L1316.0,402.7 L1315.5,402.8 L1315.0,402.9 L1314.5,402.9 L1314.0,403.0 L1313.5,403.1 L1313.0,403.2 L1312.5,403.2 L1312.0,403.3 L1311.5,403.4 L1311.0,403.4 L1310.5,403.5 L1310.0,403.6 L1309.5,403.7 L1309.0,403.7 L1308.5,403.8 L1308.0,403.9 L1307.5,404.0 L1307.0,404.0 L1306.5,404.1 L1306.0,404.2 L1305.5,404.2 L1305.0,404.1 L1304.5,403.2 L1304.0,402.3 L1303.5,401.5 L1303.0,400.6 L1302.5,399.7 L1302.0,398.8 L1301.5,399.1 L1301.0,399.4 L1300.5,399.7 L1300.0,400.0 L1299.5,400.3 L1299.0,400.7 L1298.5,401.0 L1298.0,401.3 L1297.5,401.6 L1297.0,401.9 L1296.5,402.2 L1296.0,402.5 L1295.5,402.8 L1295.0,403.1 L1294.5,403.4 L1294.0,403.8 L1293.5,404.1 L1293.0,404.4 L1292.5,404.7 L1292.0,405.0 L1291.5,405.3 L1291.0,405.6 L1290.5,405.9 L1290.0,406.2 L1289.5,406.5 L1289.0,406.8 L1288.5,407.1 L1288.0,407.3 L1287.5,407.6 L1287.0,407.8 L1286.5,408.1 L1286.0,408.3 L1285.5,408.6 L1285.0,408.8 L1284.5,409.1 L1284.0,409.3 L1283.5,409.6 L1283.0,409.8 L1282.5,410.1 L1282.0,410.3 L1281.5,410.6 L1281.0,410.8 L1280.5,411.1 L1280.0,411.3 L1279.5,411.6 L1279.0,411.8 L1278.5,412.1 L1278.0,412.3 L1277.5,412.6 L1277.0,412.8 L1276.5,413.0 L1276.0,413.2 L1275.5,413.3 L1275.0,413.5 L1274.5,413.7 L1274.0,413.8 L1273.5,414.0 L1273.0,414.1 L1272.5,414.3 L1272.0,414.5 L1271.5,414.6 L1271.0,414.8 L1270.5,414.9 L1270.0,415.1 L1269.5,415.2 L1269.0,415.4 L1268.5,415.6 L1268.0,415.7 L1267.5,415.9 L1267.0,416.0 L1266.5,416.2 L1266.0,416.4 L1265.5,416.5 L1265.0,416.7 L1264.5,416.8 L1264.0,417.0 L1263.5,417.2 L1263.0,417.4 L1262.5,417.5 L1262.0,417.7 L1261.5,417.9 L1261.0,418.1 L1260.5,418.2 L1260.0,418.4 L1259.5,418.6 L1259.0,418.8 L1258.5,419.0 L1258.0,419.1 L1257.5,419.3 L1257.0,419.5 L1256.5,419.7 L1256.0,419.8 L1255.5,420.0 L1255.0,420.2 L1254.5,420.4 L1254.0,420.6 L1253.5,420.7 L1253.0,421.0 L1252.5,421.4 L1252.0,421.8 L1251.5,422.1 L1251.0,422.5 L1250.5,422.9 L1250.0,423.3 L1249.5,423.6 L1249.0,424.0 L1248.5,424.4 L1248.0,424.8 L1247.5,425.1 L1247.0,425.5 L1246.5,424.3 L1246.0,423.2 L1245.5,422.0 L1245.0,420.8 L1244.5,419.6 L1244.0,418.9 L1243.5,418.8 L1243.0,418.8 L1242.5,418.7 L1242.0,418.7 L1241.5,418.6 L1241.0,418.6 L1240.5,418.5 L1240.0,418.5 L1239.5,418.4 L1239.0,418.2 L1238.5,417.5 L1238.0,416.7 L1237.5,416.0 L1237.0,415.2 L1236.5,414.5 L1236.0,413.7 L1235.5,412.3 L1235.0,411.7 L1234.5,411.0 L1234.0,410.4 L1233.5,409.8 L1233.0,409.1 L1232.5,410.2 L1232.0,411.6 L1231.5,413.1 L1231.0,414.6 L1230.5,416.1 L1230.0,417.5 L1229.5,419.0 L1229.0,420.5 L1228.5,421.9 L1228.0,423.1 L1227.5,423.1 L1227.0,423.0 L1226.5,423.0 L1226.0,423.0 L1225.5,422.9 L1225.0,422.9 L1224.5,422.9 L1224.0,422.8 L1223.5,422.8 L1223.0,422.8 L1222.5,422.7 L1222.0,422.7 L1221.5,422.7 L1221.0,422.6 L1220.5,422.6 L1220.0,422.6 L1219.5,422.6 L1219.0,422.5 L1218.5,422.5 L1218.0,422.5 L1217.5,422.4 L1217.0,422.4 L1216.5,422.3 L1216.0,422.3 L1215.5,422.3 L1215.0,422.2 L1214.5,422.2 L1214.0,422.1 L1213.5,422.1 L1213.0,422.1 L1212.5,422.0 L1212.0,422.0 L1211.5,421.9 L1211.0,421.9 L1210.5,421.8 L1210.0,421.8 L1209.5,421.8 L1209.0,421.7 L1208.5,421.7 L1208.0,421.6 L1207.5,422.2 L1207.0,423.8 L1206.5,425.4 L1206.0,427.0 L1205.5,428.7 L1205.0,430.3 L1204.5,431.9 L1204.0,433.5 L1203.5,434.2 L1203.0,434.3 L1202.5,434.5 L1202.0,434.6 L1201.5,434.7 L1201.0,434.9 L1200.5,435.0 L1200.0,435.1 L1199.5,435.3 L1199.0,435.4 L1198.5,435.6 L1198.0,435.7 L1197.5,435.8 L1197.0,436.0 L1196.5,436.1 L1196.0,436.3 L1195.5,436.4 L1195.0,436.3 L1194.5,435.6 L1194.0,434.8 L1193.5,434.1 L1193.0,433.3 L1192.5,432.6 L1192.0,431.8 L1191.5,431.0 L1191.0,430.3 L1190.5,429.5 L1190.0,428.8 L1189.5,428.0 L1189.0,427.3 L1188.5,427.2 L1188.0,427.4 L1187.5,427.6 L1187.0,427.7 L1186.5,427.9 L1186.0,428.0 L1185.5,428.2 L1185.0,428.4 L1184.5,428.5 L1184.0,428.7 L1183.5,428.9 L1183.0,429.0 L1182.5,429.2 L1182.0,429.4 L1181.5,429.5 L1181.0,429.7 L1180.5,429.8 L1180.0,430.0 L1179.5,430.2 L1179.0,430.3 L1178.5,430.4 L1178.0,430.4 L1177.5,430.5 L1177.0,430.6 L1176.5,430.7 L1176.0,430.8 L1175.5,430.9 L1175.0,430.9 L1174.5,431.0 L1174.0,431.1 L1173.5,431.2 L1173.0,431.3 L1172.5,431.4 L1172.0,431.5 L1171.5,431.5 L1171.0,431.6 L1170.5,431.7 L1170.0,431.8 L1169.5,431.8 L1169.0,431.8 L1168.5,431.8 L1168.0,431.8 L1167.5,431.8 L1167.0,431.7 L1166.5,431.7 L1166.0,431.7 L1165.5,431.7 L1165.0,431.7 L1164.5,431.8 L1164.0,431.9 L1163.5,432.1 L1163.0,432.2 L1162.5,432.4 L1162.0,432.5 L1161.5,432.7 L1161.0,432.8 L1160.5,433.0 L1160.0,433.1 L1159.5,433.3 L1159.0,433.5 L1158.5,433.6 L1158.0,433.8 L1157.5,433.9 L1157.0,434.1 L1156.5,434.2 L1156.0,434.4 L1155.5,434.5 L1155.0,434.8 L1154.5,435.2 L1154.0,435.7 L1153.5,436.1 L1153.0,436.6 L1152.5,437.0 L1152.0,437.5 L1151.5,437.9 L1151.0,438.4 L1150.5,438.8 L1150.0,439.0 L1149.5,439.1 L1149.0,439.3 L1148.5,439.4 L1148.0,439.6 L1147.5,439.7 L1147.0,439.9 L1146.5,440.1 L1146.0,440.2 L1145.5,440.4 L1145.0,440.5 L1144.5,440.7 L1144.0,440.9 L1143.5,441.0 L1143.0,441.2 L1142.5,441.3 L1142.0,441.5 L1141.5,441.6 L1141.0,441.8 L1140.5,441.6 L1140.0,441.4 L1139.5,441.2 L1139.0,441.0 L1138.5,440.8 L1138.0,440.6 L1137.5,440.3 L1137.0,440.1 L1136.5,439.9 L1136.0,439.7 L1135.5,439.5 L1135.0,439.3 L1134.5,439.1 L1134.0,438.9 L1133.5,439.3 L1133.0,440.1 L1132.5,441.0 L1132.0,441.8 L1131.5,442.6 L1131.0,443.5 L1130.5,444.3 L1130.0,444.4 L1129.5,443.4 L1129.0,442.3 L1128.5,441.3 L1128.0,440.3 L1127.5,439.2 L1127.0,438.2 L1126.5,437.6 L1126.0,437.4 L1125.5,437.3 L1125.0,437.2 L1124.5,437.1 L1124.0,437.0 L1123.5,436.9 L1123.0,436.8 L1122.5,436.7 L1122.0,436.5 L1121.5,436.4 L1121.0,436.3 L1120.5,436.2 L1120.0,436.1 L1119.5,436.0 L1119.0,435.9 L1118.5,435.8 L1118.0,435.6 L1117.5,435.5 L1117.0,435.4 L1116.5,435.3 L1116.0,435.2 L1115.5,435.5 L1115.0,435.8 L1114.5,436.1 L1114.0,436.4 L1113.5,436.7 L1113.0,437.0 L1112.5,437.3 L1112.0,437.6 L1111.5,437.9 L1111.0,438.2 L1110.5,438.5 L1110.0,438.8 L1109.5,438.5 L1109.0,438.1 L1108.5,437.8 L1108.0,437.5 L1107.5,437.1 L1107.0,436.8 L1106.5,436.5 L1106.0,436.1 L1105.5,435.8 L1105.0,435.5 L1104.5,435.2 L1104.0,434.8 L1103.5,434.5 L1103.0,434.2 L1102.5,433.8 L1102.0,433.5 L1101.5,433.2 L1101.0,432.8 L1100.5,432.5 L1100.0,432.2 L1099.5,431.8 L1099.0,431.7 L1098.5,431.6 L1098.0,431.5 L1097.5,431.5 L1097.0,431.4 L1096.5,431.3 L1096.0,431.3 L1095.5,431.2 L1095.0,431.2 L1094.5,431.1 L1094.0,431.0 L1093.5,431.0 L1093.0,430.9 L1092.5,430.8 L1092.0,430.8 L1091.5,430.7 L1091.0,430.7 L1090.5,430.6 L1090.0,430.5 L1089.5,430.3 L1089.0,430.0 L1088.5,429.7 L1088.0,429.4 L1087.5,429.1 L1087.0,428.8 L1086.5,428.5 L1086.0,428.2 L1085.5,427.9 L1085.0,427.6 L1084.5,427.3 L1084.0,427.0 L1083.5,426.5 L1083.0,425.9 L1082.5,425.2 L1082.0,424.6 L1081.5,423.9 L1081.0,423.2 L1080.5,422.6 L1080.0,422.5 L1079.5,422.7 L1079.0,422.9 L1078.5,423.1 L1078.0,423.3 L1077.5,423.6 L1077.0,424.0 L1076.5,424.4 L1076.0,424.7 L1075.5,425.1 L1075.0,425.5 L1074.5,425.8 L1074.0,426.2 L1073.5,426.6 L1073.0,432.1 L1072.5,449.6 L1072.0,453.8 L1071.5,458.0 L1071.0,462.2 L1070.5,466.5 L1070.0,470.7 L1069.5,474.9 L1069.0,474.6 L1068.5,474.3 L1068.0,474.0 L1067.5,473.7 L1067.0,473.4 L1066.5,473.1 L1066.0,472.8 L1065.5,472.5 L1065.0,472.2 L1064.5,471.9 L1064.0,471.6 L1063.5,471.3 L1063.0,471.0 L1062.5,470.7 L1062.0,470.4 L1061.5,468.5 L1061.0,460.1 L1060.5,451.6 L1060.0,443.2 L1059.5,440.4 L1059.0,439.6 L1058.5,438.8 L1058.0,437.9 L1057.5,437.1 L1057.0,436.3 L1056.5,435.5 L1056.0,434.7 L1055.5,433.9 L1055.0,433.1 L1054.5,432.3 L1054.0,433.0 L1053.5,434.2 L1053.0,435.3 L1052.5,436.5 L1052.0,437.6 L1051.5,438.8 L1051.0,440.0 L1050.5,441.1 L1050.0,442.3 L1049.5,443.4 L1049.0,444.6 L1048.5,445.0 L1048.0,445.2 L1047.5,445.5 L1047.0,445.7 L1046.5,446.0 L1046.0,446.2 L1045.5,446.4 L1045.0,446.7 L1044.5,446.9 L1044.0,447.2 L1043.5,447.4 L1043.0,447.7 L1042.5,447.9 L1042.0,448.4 L1041.5,448.9 L1041.0,449.4 L1040.5,449.9 L1040.0,450.4 L1039.5,450.9 L1039.0,451.5 L1038.5,452.0 L1038.0,452.5 L1037.5,453.0 L1037.0,453.5 L1036.5,454.0 L1036.0,454.5 L1035.5,455.1 L1035.0,455.7 L1034.5,456.3 L1034.0,456.9 L1033.5,457.5 L1033.0,458.1 L1032.5,458.7 L1032.0,459.4 L1031.5,460.0 L1031.0,460.6 L1030.5,461.2 L1030.0,461.8 L1029.5,462.4 L1029.0,463.0 L1028.5,463.6 L1028.0,464.2 L1027.5,464.9 L1027.0,465.5 L1026.5,466.2 L1026.0,466.8 L1025.5,467.5 L1025.0,468.2 L1024.5,468.8 L1024.0,469.5 L1023.5,470.1 L1023.0,470.8 L1022.5,471.5 L1022.0,472.1 L1021.5,472.8 L1021.0,473.5 L1020.5,474.1 L1020.0,474.8 L1019.5,475.4 L1019.0,476.1 L1018.5,476.8 L1018.0,477.6 L1017.5,478.3 L1017.0,479.1 L1016.5,479.8 L1016.0,480.6 L1015.5,481.3 L1015.0,482.1 L1014.5,482.8 L1014.0,483.6 L1013.5,484.3 L1013.0,485.1 L1012.5,485.8 L1012.0,486.2 L1011.5,486.5 L1011.0,486.7 L1010.5,487.0 L1010.0,487.2 L1009.5,487.5 L1009.0,487.7 L1008.5,488.0 L1008.0,488.2 L1007.5,488.5 L1007.0,488.7 L1006.5,489.0 L1006.0,489.2 L1005.5,489.5 L1005.0,489.7 L1004.5,490.0 L1004.0,490.2 L1003.5,490.5 L1003.0,490.7 L1002.5,491.6 L1002.0,492.6 L1001.5,493.6 L1001.0,494.5 L1000.5,495.5 L1000.0,496.5 L999.5,497.1 L999.0,497.1 L998.5,497.0 L998.0,497.0 L997.5,497.0 L997.0,497.0 L996.5,497.0 L996.0,496.9 L995.5,496.9 L995.0,496.9 L994.5,496.9 L994.0,496.8 L993.5,496.8 L993.0,496.8 L992.5,496.8 L992.0,496.8 L991.5,496.7 L991.0,496.7 L990.5,496.7 L990.0,496.7 L989.5,496.6 L989.0,496.6 L988.5,496.2 L988.0,493.9 L987.5,491.7 L987.0,489.4 L986.5,487.2 L986.0,487.2 L985.5,488.7 L985.0,490.1 L984.5,491.6 L984.0,493.1 L983.5,493.2 L983.0,493.4 L982.5,493.5 L982.0,493.7 L981.5,493.8 L981.0,494.0 L980.5,494.1 L980.0,494.2 L979.5,494.4 L979.0,494.5 L978.5,494.7 L978.0,494.8 L977.5,495.0 L977.0,495.1 L976.5,495.3 L976.0,495.4 L975.5,492.7 L975.0,490.0 L974.5,487.2 L974.0,484.5 L973.5,482.7 L973.0,482.3 L972.5,481.9 L972.0,481.4 L971.5,481.0 L971.0,480.6 L970.5,480.2 L970.0,479.7 L969.5,479.3 L969.0,478.9 L968.5,478.5 L968.0,478.0 L967.5,477.6 L967.0,477.2 L966.5,476.7 L966.0,476.2 L965.5,475.7 L965.0,475.3 L964.5,474.8 L964.0,474.3 L963.5,473.8 L963.0,474.9 L962.5,476.4 L962.0,478.0 L961.5,479.5 L961.0,481.0 L960.5,482.5 L960.0,484.1 L959.5,485.6 L959.0,487.1 L958.5,487.9 L958.0,488.5 L957.5,489.1 L957.0,489.8 L956.5,490.4 L956.0,491.0 L955.5,491.6 L955.0,492.3 L954.5,492.9 L954.0,493.5 L953.5,494.1 L953.0,494.8 L952.5,495.4 L952.0,496.0 L951.5,496.7 L951.0,497.3 L950.5,497.9 L950.0,498.5 L949.5,499.0 L949.0,499.2 L948.5,499.4 L948.0,499.6 L947.5,499.8 L947.0,500.0 L946.5,500.2 L946.0,500.4 L945.5,500.6 L945.0,500.8 L944.5,501.0 L944.0,501.1 L943.5,501.3 L943.0,501.5 L942.5,501.7 L942.0,501.9 L941.5,502.1 L941.0,502.3 L940.5,502.5 L940.0,502.7 L939.5,502.9 L939.0,503.1 L938.5,503.3 L938.0,503.6 L937.5,504.1 L937.0,504.5 L936.5,504.9 L936.0,505.3 L935.5,505.7 L935.0,506.1 L934.5,506.5 L934.0,507.0 L933.5,507.4 L933.0,507.8 L932.5,508.2 L932.0,508.6 L931.5,509.0 L931.0,509.4 L930.5,509.7 L930.0,510.0 L929.5,510.4 L929.0,510.7 L928.5,511.1 L928.0,511.4 L927.5,511.7 L927.0,512.1 L926.5,512.4 L926.0,512.8 L925.5,513.1 L925.0,513.4 L924.5,514.2 L924.0,516.7 L923.5,519.2 L923.0,521.6 L922.5,524.1 L922.0,524.2 L921.5,522.7 L921.0,521.3 L920.5,519.8 L920.0,518.3 L919.5,518.2 L919.0,518.0 L918.5,517.9 L918.0,517.8 L917.5,517.7 L917.0,517.5 L916.5,517.4 L916.0,517.3 L915.5,517.2 L915.0,517.0 L914.5,516.9 L914.0,516.8 L913.5,516.7 L913.0,516.5 L912.5,516.4 L912.0,516.3 L911.5,516.2 L911.0,516.0 L910.5,518.4 L910.0,521.4 L909.5,524.3 L909.0,527.3 L908.5,529.8 L908.0,530.5 L907.5,531.2 L907.0,531.8 L906.5,532.5 L906.0,533.2 L905.5,533.8 L905.0,534.5 L904.5,535.2 L904.0,535.8 L903.5,536.5 L903.0,537.2 L902.5,537.8 L902.0,538.5 L901.5,539.0 L901.0,539.1 L900.5,539.3 L900.0,539.5 L899.5,539.6 L899.0,539.8 L898.5,539.9 L898.0,540.1 L897.5,540.3 L897.0,540.4 L896.5,540.6 L896.0,540.7 L895.5,540.9 L895.0,541.1 L894.5,541.4 L894.0,541.7 L893.5,542.0 L893.0,542.3 L892.5,542.6 L892.0,542.9 L891.5,543.2 L891.0,543.6 L890.5,543.9 L890.0,544.2 L889.5,544.5 L889.0,544.8 L888.5,545.1 L888.0,545.5 L887.5,545.8 L887.0,546.1 L886.5,546.4 L886.0,546.7 L885.5,546.1 L885.0,544.1 L884.5,542.0 L884.0,540.0 L883.5,538.0 L883.0,535.9 L882.5,533.9 L882.0,533.2 L881.5,533.5 L881.0,533.7 L880.5,533.9 L880.0,534.1 L879.5,534.4 L879.0,534.6 L878.5,534.8 L878.0,535.0 L877.5,535.2 L877.0,535.5 L876.5,535.7 L876.0,535.9 L875.5,536.1 L875.0,536.4 L874.5,536.6 L874.0,536.8 L873.5,537.0 L873.0,537.3 L872.5,537.5 L872.0,537.7 L871.5,533.6 L871.0,529.4 L870.5,528.6 L870.0,528.6 L869.5,528.6 L869.0,528.6 L868.5,528.6 L868.0,528.6 L867.5,528.6 L867.0,528.6 L866.5,528.6 L866.0,528.6 L865.5,528.6 L865.0,528.6 L864.5,528.6 L864.0,528.6 L863.5,528.6 L863.0,528.6 L862.5,527.8 L862.0,526.8 L861.5,525.8 L861.0,524.9 L860.5,523.9 L860.0,522.9 L859.5,521.9 L859.0,527.7 L858.5,535.3 L858.0,542.8 L857.5,550.3 L857.0,557.9 L856.5,565.4 L856.0,571.2 L855.5,575.9 L855.0,580.6 L854.5,585.2 L854.0,589.9 L853.5,594.6 L853.0,599.3 L852.5,604.0 L852.0,604.5 L851.5,603.9 L851.0,603.4 L850.5,602.8 L850.0,602.3 L849.5,601.7 L849.0,601.2 L848.5,600.6 L848.0,600.1 L847.5,599.5 L847.0,599.0 L846.5,598.4 L846.0,597.9 L845.5,597.3 L845.0,594.5 L844.5,588.4 L844.0,582.3 L843.5,576.1 L843.0,570.0 L842.5,563.8 L842.0,558.2 L841.5,554.5 L841.0,550.8 L840.5,547.1 L840.0,543.5 L839.5,539.8 L839.0,536.1 L838.5,532.4 L838.0,529.7 L837.5,530.8 L837.0,531.8 L836.5,532.9 L836.0,533.9 L835.5,535.0 L835.0,536.0 L834.5,537.1 L834.0,538.1 L833.5,539.2 L833.0,540.2 L832.5,541.3 L832.0,542.3 L831.5,543.4 L831.0,544.4 L830.5,545.5 L830.0,546.5 L829.5,547.6 L829.0,548.5 L828.5,549.4 L828.0,550.3 L827.5,551.2 L827.0,552.1 L826.5,553.0 L826.0,553.9 L825.5,554.8 L825.0,555.7 L824.5,556.6 L824.0,557.5 L823.5,558.3 L823.0,559.2 L822.5,560.1 L822.0,561.0 L821.5,561.9 L821.0,563.5 L820.5,565.3 L820.0,567.1 L819.5,568.9 L819.0,570.7 L818.5,572.5 L818.0,572.5 L817.5,571.4 L817.0,570.2 L816.5,569.0 L816.0,567.9 L815.5,566.7 L815.0,565.6 L814.5,564.4 L814.0,563.3 L813.5,562.1 L813.0,561.9 L812.5,561.6 L812.0,561.4 L811.5,561.1 L811.0,560.9 L810.5,560.6 L810.0,560.4 L809.5,560.1 L809.0,559.9 L808.5,559.6 L808.0,559.4 L807.5,559.1 L807.0,558.9 L806.5,559.1 L806.0,559.2 L805.5,559.4 L805.0,559.5 L804.5,559.6 L804.0,559.8 L803.5,559.9 L803.0,560.1 L802.5,560.2 L802.0,560.4 L801.5,560.5 L801.0,560.7 L800.5,560.8 L800.0,560.9 L799.5,561.1 L799.0,561.2 L798.5,561.4 L798.0,561.5 L797.5,561.7 L797.0,561.8 L796.5,562.0 L796.0,562.1 L795.5,561.2 L795.0,560.3 L794.5,559.4 L794.0,558.5 L793.5,557.6 L793.0,556.7 L792.5,558.2 L792.0,560.3 L791.5,562.4 L791.0,564.5 L790.5,566.6 L790.0,568.7 L789.5,570.5 L789.0,571.9 L788.5,573.2 L788.0,574.5 L787.5,575.8 L787.0,577.1 L786.5,578.5 L786.0,579.8 L785.5,581.1 L785.0,582.4 L784.5,583.3 L784.0,584.0 L783.5,584.7 L783.0,585.4 L782.5,586.1 L782.0,586.8 L781.5,587.5 L781.0,588.2 L780.5,588.9 L780.0,589.6 L779.5,590.3 L779.0,591.0 L778.5,591.7 L778.0,592.4 L777.5,593.1 L777.0,593.8 L776.5,594.1 L776.0,594.5 L775.5,594.8 L775.0,595.1 L774.5,595.5 L774.0,595.8 L773.5,596.2 L773.0,596.5 L772.5,596.8 L772.0,597.2 L771.5,597.5 L771.0,597.8 L770.5,598.2 L770.0,598.5 L769.5,598.9 L769.0,599.2 L768.5,599.5 L768.0,599.9 L767.5,600.2 L767.0,600.2 L766.5,600.2 L766.0,600.2 L765.5,600.2 L765.0,600.2 L764.5,600.2 L764.0,600.2 L763.5,600.2 L763.0,600.2 L762.5,600.2 L762.0,600.2 L761.5,600.2 L761.0,600.2 L760.5,600.2 L760.0,600.2 L759.5,600.2 L759.0,600.2 L758.5,600.2 L758.0,600.2 L757.5,600.2 L757.0,600.2 L756.5,600.2 L756.0,600.6 L755.5,601.2 L755.0,601.9 L754.5,602.5 L754.0,603.2 L753.5,603.9 L753.0,604.5 L752.5,605.2 L752.0,605.8 L751.5,606.5 L751.0,607.1 L750.5,607.8 L750.0,608.4 L749.5,609.1 L749.0,609.7 L748.5,610.4 L748.0,610.8 L747.5,611.2 L747.0,611.6 L746.5,612.0 L746.0,612.4 L745.5,612.7 L745.0,613.1 L744.5,613.5 L744.0,613.9 L743.5,614.3 L743.0,614.7 L742.5,615.1 L742.0,615.5 L741.5,615.8 L741.0,613.1 L740.5,608.4 L740.0,603.6 L739.5,598.9 L739.0,594.1 L738.5,589.3 L738.0,584.6 L737.5,579.8 L737.0,575.5 L736.5,571.6 L736.0,567.6 L735.5,563.6 L735.0,559.6 L734.5,555.7 L734.0,551.7 L733.5,547.7 L733.0,543.8 L732.5,539.8 L732.0,538.7 L731.5,537.6 L731.0,536.5 L730.5,535.4 L730.0,534.3 L729.5,533.2 L729.0,532.1 L728.5,531.0 L728.0,529.9 L727.5,530.0 L727.0,530.8 L726.5,531.7 L726.0,532.5 L725.5,533.7 L725.0,535.2 L724.5,536.6 L724.0,538.1 L723.5,539.5 L723.0,541.0 L722.5,542.4 L722.0,543.8 L721.5,545.3 L721.0,546.7 L720.5,548.2 L720.0,549.6 L719.5,550.3 L719.0,550.5 L718.5,550.7 L718.0,550.9 L717.5,551.0 L717.0,551.2 L716.5,551.4 L716.0,551.6 L715.5,551.8 L715.0,552.0 L714.5,552.1 L714.0,552.3 L713.5,552.5 L713.0,552.2 L712.5,551.9 L712.0,551.6 L711.5,551.3 L711.0,551.0 L710.5,550.7 L710.0,550.4 L709.5,550.1 L709.0,549.8 L708.5,549.5 L708.0,549.2 L707.5,548.9 L707.0,548.6 L706.5,548.3 L706.0,548.0 L705.5,547.5 L705.0,545.7 L704.5,544.0 L704.0,542.2 L703.5,540.5 L703.0,538.8 L702.5,537.0 L702.0,535.3 L701.5,533.6 L701.0,531.8 L700.5,530.1 L700.0,528.4 L699.5,526.6 L699.0,525.3 L698.5,524.7 L698.0,524.1 L697.5,523.4 L697.0,522.8 L696.5,522.2 L696.0,521.5 L695.5,520.9 L695.0,520.3 L694.5,519.6 L694.0,519.0 L693.5,518.4 L693.0,517.7 L692.5,517.7 L692.0,517.9 L691.5,518.1 L691.0,518.2 L690.5,518.4 L690.0,518.6 L689.5,518.7 L689.0,518.9 L688.5,519.1 L688.0,519.9 L687.5,523.5 L687.0,527.1 L686.5,530.6 L686.0,534.2 L685.5,537.8 L685.0,541.4 L684.5,544.9 L684.0,547.7 L683.5,546.9 L683.0,546.2 L682.5,545.5 L682.0,544.7 L681.5,544.0 L681.0,543.3 L680.5,542.6 L680.0,541.8 L679.5,541.1 L679.0,540.4 L678.5,539.8 L678.0,539.7 L677.5,539.5 L677.0,539.4 L676.5,539.3 L676.0,539.2 L675.5,539.1 L675.0,539.0 L674.5,538.8 L674.0,538.7 L673.5,538.6 L673.0,538.5 L672.5,538.4 L672.0,537.8 L671.5,536.5 L671.0,535.3 L670.5,534.0 L670.0,532.7 L669.5,531.5 L669.0,530.2 L668.5,529.0 L668.0,527.7 L667.5,526.4 L667.0,525.2 L666.5,523.9 L666.0,522.7 L665.5,520.7 L665.0,518.5 L664.5,516.4 L664.0,514.2 L663.5,512.0 L663.0,509.9 L662.5,507.7 L662.0,505.6 L661.5,503.4 L661.0,501.3 L660.5,499.6 L660.0,497.8 L659.5,496.0 L659.0,490.5 L658.5,484.9 L658.0,479.4 L657.5,473.8 L657.0,471.7 L656.5,474.8 L656.0,477.9 L655.5,480.9 L655.0,484.0 L654.5,485.1 L654.0,486.2 L653.5,487.4 L653.0,488.5 L652.5,489.6 L652.0,490.8 L651.5,491.9 L651.0,493.0 L650.5,494.1 L650.0,495.2 L649.5,496.4 L649.0,497.5 L648.5,498.4 L648.0,499.3 L647.5,500.2 L647.0,501.2 L646.5,502.1 L646.0,503.0 L645.5,503.9 L645.0,504.8 L644.5,505.8 L644.0,506.7 L643.5,507.6 L643.0,508.5 L642.5,509.4 L642.0,510.3 L641.5,511.2 L641.0,512.2 L640.5,513.1 L640.0,514.0 L639.5,514.7 L639.0,515.5 L638.5,516.2 L638.0,517.0 L637.5,517.7 L637.0,518.5 L636.5,519.2 L636.0,520.0 L635.5,520.7 L635.0,521.3 L634.5,522.0 L634.0,522.6 L633.5,523.2 L633.0,523.8 L632.5,524.5 L632.0,525.1 L631.5,525.7 L631.0,526.3 L630.5,527.0 L630.0,527.6 L629.5,528.2 L629.0,528.2 L628.5,528.1 L628.0,528.1 L627.5,528.1 L627.0,528.1 L626.5,528.0 L626.0,528.0 L625.5,528.0 L625.0,528.0 L624.5,527.9 L624.0,527.9 L623.5,527.9 L623.0,527.9 L622.5,527.8 L622.0,527.8 L621.5,527.8 L621.0,527.8 L620.5,527.7 L620.0,527.7 L619.5,527.7 L619.0,527.7 L618.5,527.6 L618.0,527.6 L617.5,527.6 L617.0,527.6 L616.5,527.5 L616.0,527.5 L615.5,527.8 L615.0,528.1 L614.5,528.4 L614.0,528.8 L613.5,529.1 L613.0,529.4 L612.5,529.7 L612.0,530.0 L611.5,530.3 L611.0,530.6 L610.5,530.9 L610.0,531.2 L609.5,531.6 L609.0,531.9 L608.5,532.2 L608.0,532.5 L607.5,532.8 L607.0,533.1 L606.5,533.4 L606.0,533.8 L605.5,534.1 L605.0,534.4 L604.5,534.7 L604.0,535.0 L603.5,535.5 L603.0,536.1 L602.5,536.6 L602.0,537.2 L601.5,537.7 L601.0,538.2 L600.5,538.8 L600.0,539.3 L599.5,539.9 L599.0,540.4 L598.5,540.9 L598.0,541.5 L597.5,542.0 L597.0,542.5 L596.5,543.1 L596.0,543.6 L595.5,544.2 L595.0,544.7 L594.5,544.8 L594.0,544.8 L593.5,544.9 L593.0,545.0 L592.5,545.1 L592.0,545.1 L591.5,545.2 L591.0,545.3 L590.5,545.3 L590.0,545.4 L589.5,545.5 L589.0,545.6 L588.5,545.6 L588.0,545.7 L587.5,545.8 L587.0,545.8 L586.5,545.9 L586.0,546.0 L585.5,546.1 L585.0,546.1 L584.5,546.2 L584.0,546.0 L583.5,545.8 L583.0,545.6 L582.5,545.4 L582.0,545.2 L581.5,545.0 L581.0,544.8 L580.5,544.6 L580.0,544.4 L579.5,544.2 L579.0,544.0 L578.5,543.8 L578.0,543.6 L577.5,543.4 L577.0,543.2 L576.5,543.2 L576.0,543.3 L575.5,543.3 L575.0,543.3 L574.5,543.4 L574.0,543.4 L573.5,543.4 L573.0,543.5 L572.5,543.5 L572.0,543.5 L571.5,543.6 L571.0,543.6 L570.5,543.6 L570.0,543.7 L569.5,543.7 L569.0,543.7 L568.5,543.8 L568.0,543.8 L567.5,543.8 L567.0,543.9 L566.5,543.9 L566.0,543.9 L565.5,544.0 L565.0,544.0 L564.5,544.1 L564.0,544.1 L563.5,544.2 L563.0,544.2 L562.5,544.3 L562.0,544.4 L561.5,544.4 L561.0,544.5 L560.5,544.6 L560.0,544.6 L559.5,544.7 L559.0,544.8 L558.5,544.8 L558.0,544.9 L557.5,544.9 L557.0,545.0 L556.5,545.1 L556.0,545.1 L555.5,545.2 L555.0,545.2 L554.5,545.3 L554.0,545.4 L553.5,545.4 L553.0,545.5 L552.5,545.7 L552.0,545.9 L551.5,546.1 L551.0,546.3 L550.5,546.5 L550.0,546.7 L549.5,546.9 L549.0,547.1 L548.5,547.4 L548.0,547.6 L547.5,547.8 L547.0,548.0 L546.5,548.2 L546.0,548.4 L545.5,548.6 L545.0,548.8 L544.5,549.0 L544.0,549.2 L543.5,549.5 L543.0,549.7 L542.5,550.0 L542.0,550.2 L541.5,550.5 L541.0,550.7 L540.5,551.0 L540.0,551.4 L539.5,551.8 L539.0,552.2 L538.5,552.6 L538.0,553.0 L537.5,553.3 L537.0,553.6 L536.5,553.9 L536.0,554.2 L535.5,554.6 L535.0,554.9 L534.5,555.2 L534.0,555.5 L533.5,555.8 L533.0,556.1 L532.5,556.4 L532.0,556.8 L531.5,557.1 L531.0,557.4 L530.5,557.7 L530.0,558.0 L529.5,558.3 L529.0,558.6 L528.5,558.9 L528.0,559.2 L527.5,559.6 L527.0,559.9 L526.5,560.2 L526.0,560.5 L525.5,560.7 L525.0,560.9 L524.5,561.0 L524.0,561.2 L523.5,561.4 L523.0,561.6 L522.5,561.7 L522.0,561.9 L521.5,562.1 L521.0,562.3 L520.5,562.4 L520.0,562.6 L519.5,562.8 L519.0,563.0 L518.5,563.1 L518.0,563.3 L517.5,563.5 L517.0,563.7 L516.5,563.8 L516.0,564.0 L515.5,564.2 L515.0,564.6 L514.5,565.1 L514.0,565.5 L513.5,566.0 L513.0,566.4 L512.5,566.9 L512.0,567.3 L511.5,567.7 L511.0,568.2 L510.5,568.6 L510.0,569.1 L509.5,569.5 L509.0,569.7 L508.5,570.0 L508.0,570.2 L507.5,570.5 L507.0,570.7 L506.5,571.0 L506.0,571.2 L505.5,571.5 L505.0,571.7 L504.5,572.0 L504.0,572.2 L503.5,572.5 L503.0,572.7 L502.5,573.0 L502.0,573.2 L501.5,573.0 L501.0,572.8 L500.5,572.8 L500.0,573.0 L499.5,573.2 L499.0,573.4 L498.5,573.6 L498.0,573.8 L497.5,574.0 L497.0,574.3 L496.5,574.6 L496.0,574.9 L495.5,575.2 L495.0,575.5 L494.5,575.8 L494.0,576.1 L493.5,576.3 L493.0,576.6 L492.5,576.9 L492.0,577.2 L491.5,577.5 L491.0,577.8 L490.5,578.1 L490.0,578.4 L489.5,578.7 L489.0,579.0 L488.5,579.3 L488.0,579.6 L487.5,579.9 L487.0,580.2 L486.5,580.4 L486.0,580.7 L485.5,581.0 L485.0,581.3 L484.5,582.1 L484.0,583.6 L483.5,585.1 L483.0,586.6 L482.5,588.1 L482.0,589.6 L481.5,590.6 L481.0,590.8 L480.5,591.0 L480.0,591.3 L479.5,591.5 L479.0,591.7 L478.5,591.9 L478.0,592.2 L477.5,592.4 L477.0,592.6 L476.5,592.8 L476.0,593.1 L475.5,593.3 L475.0,593.5 L474.5,593.6 L474.0,593.7 L473.5,593.8 L473.0,593.9 L472.5,594.0 L472.0,594.1 L471.5,594.2 L471.0,594.3 L470.5,594.4 L470.0,594.5 L469.5,594.6 L469.0,594.6 L468.5,594.7 L468.0,594.7 L467.5,594.8 L467.0,594.8 L466.5,594.9 L466.0,595.0 L465.5,595.0 L465.0,595.1 L464.5,595.1 L464.0,595.2 L463.5,595.2 L463.0,595.3 L462.5,595.4 L462.0,595.4 L461.5,595.5 L461.0,595.5 L460.5,595.6 L460.0,595.6 L459.5,595.7 L459.0,595.7 L458.5,595.8 L458.0,595.9 L457.5,595.9 L457.0,596.0 L456.5,596.0 L456.0,596.1 L455.5,596.1 L455.0,596.2 L454.5,596.4 L454.0,596.7 L453.5,596.9 L453.0,597.1 L452.5,597.3 L452.0,597.6 L451.5,597.8 L451.0,598.0 L450.5,598.2 L450.0,598.5 L449.5,598.7 L449.0,598.9 L448.5,599.1 L448.0,599.4 L447.5,599.6 L447.0,599.8 L446.5,600.1 L446.0,600.3 L445.5,600.5 L445.0,600.7 L444.5,601.0 L444.0,601.2 L443.5,601.4 L443.0,601.6 L442.5,601.9 L442.0,602.1 L441.5,602.3 L441.0,602.5 L440.5,602.8 L440.0,603.0 L439.5,603.0 L439.0,603.0 L438.5,603.0 L438.0,603.0 L437.5,603.0 L437.0,603.0 L436.5,603.0 L436.0,603.0 L435.5,603.0 L435.0,603.0 L434.5,603.0 L434.0,603.0 L433.5,603.0 L433.0,603.0 L432.5,603.0 L432.0,603.0 L431.5,603.0 L431.0,603.0 L430.5,603.0 L430.0,603.0 L429.5,603.0 L429.0,603.0 L428.5,603.1 L428.0,603.1 L427.5,603.1 L427.0,603.2 L426.5,603.2 L426.0,603.2 L425.5,603.3 L425.0,603.3 L424.5,603.4 L424.0,603.4 L423.5,603.4 L423.0,603.5 L422.5,603.5 L422.0,603.5 L421.5,603.6 L421.0,603.6 L420.5,603.6 L420.0,603.7 L419.5,602.4 L419.0,599.2 L418.5,596.0 L418.0,592.7 L417.5,589.5 L417.0,589.5 L416.5,589.6 L416.0,589.6 L415.5,589.7 L415.0,589.7 L414.5,589.8 L414.0,589.8 L413.5,589.9 L413.0,589.9 L412.5,590.0 L412.0,590.0 L411.5,590.1 L411.0,590.1 L410.5,590.2 L410.0,590.2 L409.5,590.1 L409.0,590.0 L408.5,589.8 L408.0,589.7 L407.5,589.6 L407.0,589.5 L406.5,589.3 L406.0,589.2 L405.5,589.1 L405.0,589.0 L404.5,588.8 L404.0,588.7 L403.5,588.5 L403.0,588.3 L402.5,588.2 L402.0,588.0 L401.5,587.8 L401.0,587.6 L400.5,587.4 L400.0,587.2 L399.5,587.0 L399.0,586.9 L398.5,586.7 L398.0,586.5 L397.5,588.0 L397.0,589.6 L396.5,591.1 L396.0,592.7 L395.5,594.2 L395.0,595.8 L394.5,595.8 L394.0,595.8 L393.5,595.8 L393.0,595.7 L392.5,595.7 L392.0,595.7 L391.5,595.7 L391.0,595.7 L390.5,595.7 L390.0,595.6 L389.5,595.6 L389.0,595.6 L388.5,595.6 L388.0,595.6 L387.5,595.6 L387.0,595.6 L386.5,595.5 L386.0,595.5 L385.5,595.5 L385.0,594.9 L384.5,593.4 L384.0,592.0 L383.5,590.5 L383.0,589.0 L382.5,588.8 L382.0,588.7 L381.5,588.5 L381.0,588.3 L380.5,588.2 L380.0,588.0 L379.5,588.0 L379.0,588.1 L378.5,588.1 L378.0,588.2 L377.5,588.2 L377.0,588.2 L376.5,588.3 L376.0,588.3 L375.5,588.4 L375.0,588.4 L374.5,588.4 L374.0,588.5 L373.5,588.5 L373.0,588.5 L372.5,588.6 L372.0,588.6 L371.5,588.7 L371.0,588.7 L370.5,589.1 L370.0,589.5 L369.5,589.8 L369.0,590.2 L368.5,590.6 L368.0,591.0 L367.5,591.3 L367.0,592.5 L366.5,594.0 L366.0,595.5 L365.5,597.0 L365.0,598.5 L364.5,600.0 L364.0,601.5 L363.5,603.0 L363.0,604.0 L362.5,605.0 L362.0,606.0 L361.5,607.0 L361.0,608.0 L360.5,609.0 L360.0,610.0 L359.5,611.0 L359.0,612.0 L358.5,613.0 L358.0,614.0 L357.5,615.0 L357.0,615.3 L356.5,615.6 L356.0,615.9 L355.5,616.2 L355.0,616.5 L354.5,616.8 L354.0,617.1 L353.5,617.4 L353.0,617.7 L352.5,618.0 L352.0,618.3 L351.5,618.6 L351.0,618.9 L350.5,619.2 L350.0,619.5 L349.5,619.7 L349.0,619.9 L348.5,620.2 L348.0,620.4 L347.5,620.6 L347.0,620.8 L346.5,621.0 L346.0,621.3 L345.5,621.5 L345.0,621.7 L344.5,621.9 L344.0,622.1 L343.5,622.4 L343.0,624.1 L342.5,628.2 L342.0,632.3 L341.5,636.4 L341.0,640.5 L340.5,641.4 L340.0,642.3 L339.5,643.2 L339.0,644.2 L338.5,645.1 L338.0,646.0 L337.5,646.9 L337.0,647.8 L336.5,648.8 L336.0,649.7 L335.5,650.6 L335.0,651.5 L334.5,652.4 L334.0,653.3 L333.5,654.2 L333.0,655.2 L332.5,656.1 L332.0,657.0 L331.5,657.0 L331.0,657.0 L330.5,657.0 L330.0,657.0 L329.5,657.0 L329.0,657.0 L328.5,657.0 L328.0,657.0 L327.5,657.0 L327.0,657.2 L326.5,657.5 L326.0,657.8 L325.5,658.0 L325.0,658.2 L324.5,658.5 L324.0,658.8 L323.5,659.0 L323.0,659.2 L322.5,659.5 L322.0,659.8 L321.5,660.0 L321.0,660.4 L320.5,660.8 L320.0,661.2 L319.5,661.6 L319.0,662.0 L318.5,662.4 L318.0,662.8 L317.5,663.2 L317.0,663.6 L316.5,664.0 L316.0,664.4 L315.5,664.8 L315.0,665.2 L314.5,665.6 L314.0,666.0 L313.5,666.5 L313.0,667.0 L312.5,667.5 L312.0,668.0 L311.5,668.5 L311.0,669.0 L310.5,669.5 L310.0,670.0 L309.5,670.5 L309.0,671.0 L308.5,671.5 L308.0,672.0 L307.5,672.5 L307.0,673.0 L306.5,673.5 L306.0,673.9 L305.5,674.3 L305.0,674.7 L304.5,675.1 L304.0,675.5 L303.5,675.9 L303.0,676.3 L302.5,676.7 L302.0,677.1 L301.5,677.5 L301.0,677.9 L300.5,678.3 L300.0,678.7 L299.5,679.1 L299.0,679.5 L298.5,679.8 L298.0,680.2 L297.5,680.5 L297.0,680.8 L296.5,681.2 L296.0,681.5 L295.5,681.8 L295.0,682.2 L294.5,682.5 L294.0,682.8 L293.5,683.2 L293.0,683.5 L292.5,683.8 L292.0,684.2 L291.5,684.5 L291.0,684.8 L290.5,685.2 L290.0,685.5 L289.5,685.8 L289.0,686.1 L288.5,686.4 L288.0,686.7 L287.5,687.0 L287.0,687.3 L286.5,687.6 L286.0,687.9 L285.5,688.2 L285.0,688.5 L284.5,688.8 L284.0,689.1 L283.5,689.4 L283.0,689.7 L282.5,690.0 L282.0,690.3 L281.5,690.6 L281.0,690.9 L280.5,691.2 L280.0,691.5 L279.5,691.8 L279.0,692.1 L278.5,692.4 L278.0,692.7 L277.5,693.0 L277.0,693.3 L276.5,693.6 L276.0,693.9 L275.5,694.2 L275.0,694.5 L274.5,695.0 L274.0,695.5 L273.5,696.0 L273.0,696.5 L272.5,697.0 L272.0,697.5 L271.5,698.0 L271.0,698.5 L270.5,699.0 L270.0,699.5 L269.5,700.0 L269.0,700.5 L268.5,701.0 L268.0,701.5 L267.5,702.0 L267.0,702.3 L266.5,702.6 L266.0,702.9 L265.5,703.2 L265.0,703.5 L264.5,703.8 L264.0,704.1 L263.5,704.4 L263.0,704.7 L262.5,705.0 L262.0,705.3 L261.5,705.6 L261.0,705.9 L260.5,706.2 L260.0,706.5 L259.5,707.0 L259.0,707.5 L258.5,708.0 L258.0,708.4 L257.5,708.9 L257.0,709.4 L256.5,709.6 L256.0,709.9 L255.5,710.1 L255.0,710.4 L254.5,710.6 L254.0,710.9 L253.5,711.1 L253.0,711.3 L252.5,711.6 L252.0,711.8 L251.5,712.1 L251.0,712.3 L250.5,712.5 L250.0,712.4 L249.5,712.4 L249.0,712.3 L248.5,712.2 L248.0,712.2 L247.5,712.1 L247.0,712.0 L246.5,712.0 L246.0,711.9 L245.5,711.9 L245.0,711.8 L244.5,711.7 L244.0,711.4 L243.5,710.9 L243.0,710.4 L242.5,709.9 L242.0,709.4 L241.5,708.9 L241.0,708.4 L240.5,707.9 L240.0,707.4 L239.5,706.9 L239.0,706.4 L238.5,705.9 L238.0,705.4 L237.5,705.1 L237.0,704.9 L236.5,704.6 L236.0,704.4 L235.5,704.1 L235.0,703.9 L234.5,703.6 L234.0,703.4 L233.5,703.1 L233.0,702.9 L232.5,702.7 L232.0,702.4 L231.5,702.2 L231.0,702.1 L230.5,701.9 L230.0,701.8 L229.5,701.7 L229.0,701.6 L228.5,701.4 L228.0,701.3 L227.5,701.2 L227.0,701.1 L226.5,700.9 L226.0,700.8 L225.5,700.7 L225.0,700.7 L224.5,700.8 L224.0,700.9 L223.5,701.1 L223.0,701.2 L222.5,701.4 L222.0,701.5 L221.5,701.7 L221.0,701.8 L220.5,702.0 L220.0,702.4 L219.5,702.9 L219.0,703.3 L218.5,703.8 L218.0,704.2 L217.5,704.6 L217.0,705.1 L216.5,705.5 L216.0,705.9 L215.5,706.3 L215.0,706.4 L214.5,706.5 L214.0,706.7 L213.5,706.8 L213.0,707.0 L212.5,707.1 L212.0,707.3 L211.5,707.4 L211.0,707.6 L210.5,707.7 L210.0,707.8 L209.5,708.0 L209.0,708.1 L208.5,708.3 L208.0,708.4 L207.5,708.6 L207.0,708.7 L206.5,708.9 L206.0,709.0 L205.5,709.1 L205.0,709.3 L204.5,709.4 L204.0,709.6 L203.5,709.7 L203.0,709.9 L202.5,710.0 L202.0,710.2 L201.5,710.3 L201.0,710.4 L200.5,710.6 L200.0,710.7 L199.5,710.9 L199.0,711.0 L198.5,711.2 L198.0,711.3 L197.5,711.5 L197.0,711.6 L196.5,712.7 L196.0,715.2 L195.5,717.7 L195.0,720.2 L194.5,722.7 L194.0,723.8 L193.5,724.0 L193.0,724.2 L192.5,724.4 L192.0,724.5 L191.5,724.7 L191.0,724.9 L190.5,725.1 L190.0,725.3 L189.5,725.5 L189.0,725.6 L188.5,725.8 L188.0,726.0 L187.5,726.2 L187.0,726.5 L186.5,726.8 L186.0,727.0 L185.5,727.2 L185.0,727.5 L184.5,727.8 L184.0,728.0 L183.5,728.2 L183.0,728.0 L182.5,727.1 L182.0,726.2 L181.5,725.2 L181.0,724.3 L180.5,723.4 L180.0,722.5 L179.5,721.5 L179.0,720.6 L178.5,719.7 L178.0,718.7 L177.5,717.9 L177.0,717.3 L176.5,716.7 L176.0,716.1 L175.5,715.5 L175.0,714.9 L174.5,714.3 L174.0,713.7 L173.5,713.1 L173.0,712.5 L172.5,712.0 L172.0,711.4 L171.5,710.9 L171.0,710.3 L170.5,709.8 L170.0,709.2 L169.5,708.7 L169.0,708.1 L168.5,707.6 L168.0,707.0 L167.5,707.2 L167.0,707.4 L166.5,707.6 L166.0,707.8 L165.5,708.0 L165.0,708.1 L164.5,708.3 L164.0,708.5 L163.5,708.7 L163.0,708.9 L162.5,709.1 L162.0,709.3 L161.5,709.5 L161.0,709.7 L160.5,709.9 L160.0,710.1 L159.5,710.4 L159.0,710.6 L158.5,710.8 L158.0,711.0 L157.5,711.2 L157.0,711.5 L156.5,711.7 L156.0,711.9 L155.5,712.1 L155.0,712.3 L154.5,712.4 L154.0,711.8 L153.5,711.2 L153.0,710.7 L152.5,710.1 L152.0,709.5 L151.5,708.9 L151.0,708.4 L150.5,707.8 L150.0,707.2 L149.5,702.1 L149.0,694.0 L148.5,691.5 L148.0,690.0 L147.5,681.7 L147.0,673.3 L146.5,665.0 L146.0,656.7 L145.5,648.3 L145.0,640.0 L144.5,625.0 L144.0,610.0 L143.5,595.0 L143.0,580.0 L142.5,570.0 L142.0,560.0 L141.5,548.8 L141.0,540.0 Z" fill="#e0e0e0"/>
<line x1="92" y1="368.0" x2="1378.5" y2="368.0" stroke="#c9c9c9" stroke-width="2"/>
<path d="M92.0,366.0 L110.0,361.0 L118.0,357.0 L125.0,358.0 L131.0,365.0 L134.0,380.0 L137.0,420.0 L141.0,520.0 L145.0,640.0 L148.0,690.0 L153.8,707.0 L161.7,702.2 L168.9,699.8 L173.7,705.4 L177.6,710.0 L180.8,709.4 L184.8,719.7 L190.3,718.0 L195.0,707.0 L201.4,706.2 L215.7,703.0 L225.2,700.6 L231.6,702.2 L238.0,705.4 L244.3,711.7 L250.6,712.5 L257.0,709.4 L260.0,706.5 L267.5,702.0 L275.0,694.5 L282.5,690.0 L290.0,685.5 L299.0,679.5 L306.5,673.5 L314.0,666.0 L321.5,660.0 L327.5,657.0 L332.0,657.0 L341.0,640.5 L343.2,622.5 L350.0,619.5 L357.5,615.0 L363.5,603.0 L369.5,585.0 L380.0,582.0 L383.0,581.2 L386.0,586.5 L395.0,585.0 L398.7,577.5 L410.0,576.0 L417.5,573.0 L421.2,590.2 L432.5,590.2 L447.5,585.7 L458.0,580.5 L470.0,578.2 L481.0,576.7 L484.7,568.0 L496.0,571.0 L502.0,573.2 L509.5,569.5 L515.5,564.2 L526.0,560.5 L538.0,553.0 L550.0,543.2 L562.0,539.5 L575.5,533.5 L584.5,536.5 L595.0,532.7 L604.0,523.0 L616.0,512.5 L626.5,499.7 L637.0,499.7 L644.5,493.0 L653.5,475.0 L657.2,463.0 L661.0,493.0 L667.5,516.0 L673.8,517.6 L680.2,520.8 L684.1,531.9 L688.1,506.5 L692.9,503.3 L699.2,511.3 L705.6,536.7 L711.9,546.2 L719.8,543.0 L727.8,529.5 L732.5,539.8 L737.3,571.6 L743.7,606.5 L751.6,597.0 L756.3,590.6 L765.9,592.2 L777.0,584.3 L783.3,571.6 L789.7,551.0 L792.9,538.3 L796.0,543.0 L805.6,542.2 L816.7,546.2 L821.4,538.3 L829.4,533.5 L838.1,525.6 L841.0,540.0 L848.4,592.2 L852.0,593.0 L856.3,533.5 L859.4,513.7 L862.9,517.1 L870.9,516.0 L872.6,523.4 L883.4,524.0 L886.9,537.7 L893.7,534.3 L900.6,529.7 L905.1,521.7 L908.6,510.3 L912.0,504.6 L918.9,508.0 L921.1,512.0 L924.6,504.6 L931.4,499.4 L940.6,496.6 L949.7,490.9 L958.9,480.6 L962.9,468.0 L966.9,472.6 L977.1,482.3 L986.3,473.7 L988.6,482.9 L994.3,487.4 L1000.0,485.7 L1010.8,462.2 L1018.7,454.3 L1031.4,445.6 L1037.8,435.2 L1044.1,425.7 L1052.1,413.0 L1058.4,400.3 L1061.6,403.5 L1069.5,406.1 L1073.1,394.8 L1077.9,392.4 L1083.0,395.0 L1088.6,402.5 L1100.0,400.0 L1110.0,401.0 L1121.9,397.1 L1133.8,403.7 L1143.3,403.7 L1152.9,395.4 L1167.1,392.4 L1179.0,390.0 L1190.0,385.0 L1207.7,379.1 L1223.4,376.0 L1231.3,366.6 L1236.0,357.9 L1240.7,357.9 L1245.4,363.4 L1248.6,371.3 L1256.4,373.6 L1267.4,365.8 L1276.9,361.1 L1286.3,357.1 L1295.7,347.7 L1303.6,340.6 L1311.4,343.0 L1316.1,341.4 L1320.8,319.4 L1328.7,297.0 L1333.5,274.8 L1335.9,281.1 L1338.3,328.7 L1341.3,341.4 L1344.4,355.6 L1349.1,358.7 L1353.8,365.0 L1358.6,385.4 L1360.9,372.9 L1364.8,379.1 L1371.1,390.1 L1379.0,401.1" fill="none" stroke="#5b9bd5" stroke-width="5" stroke-linejoin="round" stroke-linecap="butt"/>
<path d="M92.0,370.0 L97.0,372.5 L103.0,371.0 L108.0,362.0 L117.0,351.5 L125.0,354.0 L131.0,356.0 L135.0,356.0 L137.0,362.0 L138.8,375.0 L141.5,400.0 L145.0,490.0 L149.0,580.0 L150.6,608.6 L153.8,616.5 L160.2,609.4 L168.0,599.0 L172.0,600.6 L174.4,626.0 L177.6,624.4 L180.0,615.7 L184.0,661.0 L188.7,650.0 L192.7,661.0 L196.7,619.0 L200.6,624.4 L204.6,632.4 L209.4,634.8 L214.0,633.0 L220.5,623.7 L225.2,626.0 L233.2,625.2 L238.0,612.5 L244.3,610.0 L250.6,608.6 L257.0,600.6 L260.0,598.5 L267.5,588.0 L275.0,576.0 L281.0,572.2 L288.5,564.0 L296.0,561.0 L303.5,556.5 L309.5,546.0 L314.7,537.0 L320.0,537.8 L324.5,538.5 L329.0,541.5 L333.5,534.0 L341.0,525.7 L342.5,499.5 L347.0,501.0 L353.0,501.7 L356.0,498.7 L362.0,495.7 L371.0,490.5 L378.5,491.2 L382.2,488.2 L386.7,494.2 L392.0,490.5 L395.7,495.0 L399.5,486.7 L405.5,491.2 L410.0,493.5 L414.5,495.0 L418.2,486.0 L419.7,514.5 L423.5,510.7 L432.5,513.0 L440.0,511.5 L449.0,505.5 L456.5,502.5 L464.0,504.7 L469.0,506.5 L482.5,506.5 L484.0,490.0 L490.0,490.0 L499.0,486.2 L505.0,481.7 L512.5,472.0 L517.0,473.5 L520.0,475.7 L527.5,475.7 L530.5,471.2 L539.5,463.0 L550.0,454.7 L559.0,452.5 L568.0,450.2 L574.0,453.2 L580.0,455.5 L586.0,458.5 L595.0,457.0 L601.0,450.2 L610.0,445.7 L616.0,442.0 L625.0,425.5 L629.5,423.2 L637.0,424.7 L643.0,421.0 L649.0,409.0 L654.8,387.6 L659.5,355.1 L661.9,387.6 L665.9,406.7 L670.6,429.7 L673.8,426.5 L681.7,428.1 L685.7,459.0 L688.1,425.7 L692.1,423.3 L696.0,430.5 L702.4,448.0 L705.6,465.4 L711.9,475.7 L719.8,468.6 L723.0,462.2 L728.6,441.6 L734.1,457.5 L738.9,479.7 L742.9,503.5 L748.4,497.1 L755.6,481.3 L764.3,477.3 L769.0,480.5 L777.0,474.1 L781.7,468.6 L788.1,451.1 L792.9,438.4 L795.2,457.5 L802.4,457.5 L808.7,454.3 L818.3,457.5 L820.6,441.6 L829.4,436.0 L837.3,432.1 L839.7,421.7 L842.1,435.2 L845.2,470.2 L848.4,474.9 L851.6,481.3 L856.3,451.1 L859.5,407.5 L863.5,413.0 L869.5,412.2 L872.7,427.3 L882.2,428.9 L885.4,449.5 L893.3,443.2 L898.1,439.2 L906.0,424.1 L910.8,394.8 L917.1,401.9 L921.9,414.6 L926.7,405.1 L936.2,401.1 L944.1,403.5 L952.1,397.1 L958.4,384.4 L962.9,362.2 L967.9,371.0 L972.7,375.7 L975.9,394.0 L982.2,392.4 L987.0,382.1 L990.2,390.8 L996.5,392.4 L1000.5,397.9 L1002.9,387.6 L1009.2,378.1 L1017.1,364.6 L1025.1,361.4 L1033.0,358.3 L1041.0,343.2 L1047.3,340.0 L1051.4,337.1 L1057.7,328.6 L1061.3,335.7 L1069.3,333.6 L1072.9,322.0 L1080.0,322.9 L1088.9,332.1 L1092.5,328.2 L1101.4,329.1 L1108.6,336.8 L1119.3,331.8 L1124.6,327.3 L1131.8,326.1 L1138.0,330.9 L1146.0,333.9 L1153.2,329.6 L1162.1,326.1 L1171.0,326.8 L1176.3,324.8 L1182.7,319.2 L1187.5,315.2 L1192.2,317.6 L1195.4,323.2 L1201.7,320.8 L1208.1,314.4 L1216.0,313.7 L1222.4,314.4 L1228.7,309.7 L1231.9,303.3 L1234.3,292.2 L1236.7,293.0 L1239.8,289.8 L1243.8,293.0 L1247.8,306.5 L1252.5,310.5 L1258.9,313.7 L1262.1,309.7 L1271.6,303.3 L1281.1,302.1 L1287.5,301.7 L1292.2,295.4 L1300.2,284.3 L1306.5,283.0 L1312.9,281.9 L1317.6,274.8 L1322.4,262.1 L1327.1,246.2 L1330.3,230.3 L1332.7,209.7 L1334.3,177.9 L1335.9,209.7 L1338.3,230.3 L1342.2,249.4 L1345.4,268.4 L1348.6,274.8 L1353.3,274.0 L1356.5,277.9 L1358.9,297.0 L1360.5,323.2 L1362.1,289.0 L1364.4,288.3 L1368.4,295.4 L1372.4,302.5 L1379.5,305.7" fill="none" stroke="#e6854a" stroke-width="5" stroke-linejoin="round" stroke-linecap="butt"/>
<path d="M92.0,364.0 L105.0,366.0 L118.0,370.0 L125.0,375.0 L130.0,383.0 L133.0,400.0 L138.0,470.0 L142.0,560.0 L146.0,640.0 L149.0,665.0 L153.0,672.0 L160.2,668.0 L168.0,665.7 L172.9,673.7 L176.0,676.8 L184.0,695.9 L193.5,690.3 L198.3,670.5 L207.8,673.7 L215.7,672.0 L220.5,665.7 L231.6,664.0 L241.0,648.3 L250.6,641.0 L260.0,636.0 L270.0,622.0 L278.0,612.0 L290.0,603.0 L297.5,600.0 L305.0,592.5 L309.5,588.0 L320.0,582.0 L333.5,574.5 L339.5,564.0 L344.0,546.0 L353.0,542.2 L360.0,543.0 L370.0,540.0 L382.0,537.0 L387.5,538.5 L393.0,536.0 L399.5,533.2 L410.0,534.5 L417.5,534.0 L422.0,545.0 L429.5,553.5 L440.0,549.7 L455.0,544.5 L470.0,540.0 L478.0,538.7 L483.2,538.0 L484.7,529.0 L490.0,532.0 L497.5,535.0 L505.0,535.7 L512.5,529.0 L520.0,525.2 L524.5,523.0 L536.5,518.5 L544.0,512.5 L553.0,501.2 L559.0,503.5 L566.5,507.2 L574.0,505.7 L583.0,505.7 L595.0,503.5 L604.0,498.2 L616.0,493.0 L629.5,487.7 L640.0,481.0 L649.0,469.0 L656.3,449.5 L658.0,446.5 L662.7,478.1 L664.3,484.3 L673.8,489.0 L681.7,489.0 L684.1,497.0 L691.3,481.1 L697.6,487.5 L704.0,508.1 L710.3,530.3 L719.8,525.6 L727.8,510.5 L732.5,520.8 L737.3,549.4 L741.3,573.2 L750.0,568.4 L756.3,560.5 L767.5,560.5 L773.8,556.5 L783.3,547.8 L789.7,533.5 L792.9,523.2 L796.0,529.5 L805.6,525.6 L811.9,524.8 L818.3,529.5 L821.4,520.8 L829.4,512.9 L837.3,506.5 L840.0,510.0 L843.0,530.0 L847.6,557.3 L852.0,558.0 L856.0,525.0 L859.4,482.9 L862.9,486.3 L870.9,485.1 L872.6,508.0 L883.4,508.0 L886.9,518.3 L892.6,518.3 L899.4,512.6 L907.4,505.7 L910.9,496.6 L920.0,497.1 L924.6,494.3 L931.4,485.1 L937.1,478.3 L946.3,473.7 L953.1,466.9 L961.1,461.1 L962.4,435.2 L971.1,439.2 L975.9,462.2 L983.8,462.2 L990.2,467.0 L994.9,469.4 L1001.3,467.0 L1006.0,454.3 L1012.4,449.5 L1018.7,444.8 L1031.4,436.8 L1039.4,424.1 L1050.5,413.0 L1056.8,398.7 L1061.6,386.0 L1067.9,386.0 L1072.7,390.8 L1077.9,388.2 L1082.6,393.6 L1088.6,403.1 L1093.3,398.9 L1102.9,400.7 L1107.6,404.9 L1114.8,404.9 L1123.1,394.2 L1129.0,399.5 L1133.8,406.7 L1138.6,410.2 L1143.3,406.7 L1148.1,400.7 L1155.2,396.5 L1162.4,395.4 L1170.0,393.3 L1185.7,388.6 L1192.0,385.4 L1195.9,390.9 L1201.4,387.0 L1208.5,379.9 L1217.1,382.3 L1225.0,383.1 L1232.9,358.7 L1237.6,357.1 L1243.9,361.9 L1248.6,376.0 L1254.9,381.5 L1264.3,381.5 L1276.9,374.4 L1289.4,370.5 L1302.0,365.0 L1311.4,356.4 L1319.3,346.1 L1327.1,328.9 L1333.4,313.1 L1338.1,333.6 L1344.4,354.0 L1353.8,349.3 L1357.0,352.4 L1360.1,366.6 L1362.5,354.8 L1368.0,363.4 L1372.7,372.9 L1379.0,378.4" fill="none" stroke="#a4a4a4" stroke-width="5" stroke-linejoin="round" stroke-linecap="butt"/>
<path d="M92.0,359.0 L103.0,362.0 L113.0,357.0 L120.7,362.6 L126.7,368.0 L131.4,381.7 L133.8,399.5 L138.0,470.0 L141.0,540.0 L144.3,580.0 L145.9,643.5 L149.8,707.0 L154.6,712.5 L161.7,709.4 L168.0,707.0 L173.7,713.3 L177.6,718.0 L183.2,728.4 L188.0,726.0 L194.3,723.7 L196.7,711.7 L204.6,709.4 L215.7,706.2 L220.5,702.0 L230.0,699.0 L234.8,691.0 L241.0,686.3 L249.0,681.6 L257.0,675.2 L260.0,672.0 L267.5,663.0 L275.0,652.5 L279.5,649.5 L287.0,643.5 L296.0,639.7 L303.5,636.7 L309.5,631.5 L314.7,624.0 L323.0,621.7 L329.0,622.5 L332.0,625.5 L338.0,621.0 L341.7,616.5 L344.0,600.0 L351.5,598.5 L356.0,595.5 L365.0,593.2 L371.0,588.7 L380.0,588.0 L383.0,589.0 L385.2,595.5 L395.0,595.8 L398.0,586.5 L404.0,588.7 L410.0,590.2 L417.5,589.5 L419.7,603.7 L429.5,603.0 L440.0,603.0 L455.0,596.2 L470.0,594.5 L475.0,593.5 L481.7,590.5 L484.7,581.5 L497.5,574.0 L505.0,571.0 L514.0,561.2 L523.0,558.2 L532.0,555.2 L544.0,549.2 L553.0,545.5 L565.0,544.0 L577.0,543.2 L584.5,546.2 L595.0,544.7 L604.0,535.0 L616.0,527.5 L629.5,528.2 L635.5,520.7 L640.0,514.0 L649.0,497.5 L655.0,484.0 L657.2,470.5 L659.5,496.0 L661.1,501.7 L665.9,522.4 L672.2,538.3 L678.6,539.8 L684.1,547.8 L688.1,519.2 L692.9,517.6 L699.2,525.6 L705.6,547.8 L713.5,552.5 L719.8,550.2 L727.8,527.1 L732.5,539.8 L737.3,577.9 L741.3,616.0 L748.4,610.5 L756.3,600.2 L767.5,600.2 L777.0,593.8 L784.9,582.7 L789.7,570.0 L792.9,556.5 L796.0,562.1 L807.1,558.9 L813.5,562.1 L818.3,573.2 L821.4,562.1 L829.4,547.8 L838.1,529.5 L842.1,558.9 L845.2,597.0 L852.4,604.9 L856.3,568.4 L859.4,521.7 L862.9,528.6 L870.9,528.6 L872.0,537.7 L882.3,533.1 L885.7,546.9 L894.9,541.1 L901.7,538.9 L908.6,529.7 L910.9,516.0 L920.0,518.3 L922.3,525.1 L924.6,513.7 L931.4,509.1 L938.3,503.4 L949.7,498.9 L958.9,487.4 L963.4,473.7 L966.9,477.1 L973.7,482.9 L976.0,495.4 L984.0,493.1 L986.3,486.3 L988.6,496.6 L999.7,497.1 L1002.9,490.8 L1012.4,486.0 L1018.7,476.5 L1028.3,463.8 L1036.2,454.3 L1042.5,447.9 L1048.9,444.8 L1054.4,432.1 L1060.0,441.2 L1063.6,444.8 L1068.3,443.6 L1073.1,422.1 L1077.9,419.2 L1083.8,426.9 L1089.8,430.5 L1099.3,431.7 L1110.0,438.8 L1116.0,435.2 L1126.7,437.6 L1130.2,444.8 L1133.8,438.8 L1141.0,441.8 L1150.5,438.8 L1155.2,434.6 L1164.8,431.7 L1170.0,431.8 L1179.4,430.2 L1188.9,427.1 L1195.1,436.5 L1203.8,434.1 L1207.7,421.6 L1217.1,422.4 L1228.1,423.1 L1232.9,409.0 L1239.1,416.9 L1242.3,414.5 L1247.0,425.5 L1253.3,420.8 L1264.3,416.9 L1276.9,412.9 L1289.4,406.6 L1302.0,398.8 L1305.1,404.3 L1316.1,402.7 L1317.7,394.9 L1324.0,382.3 L1330.3,357.1 L1332.6,346.1 L1335.0,385.4 L1341.3,420.0 L1344.4,431.0 L1349.1,423.1 L1357.0,440.4 L1360.1,445.1 L1363.3,420.0 L1366.4,418.4 L1372.7,431.0 L1379.0,438.1" fill="none" stroke="#eab824" stroke-width="5" stroke-linejoin="round" stroke-linecap="butt"/>
<path d="M92.0,365.0 L100.0,366.0 L108.0,362.0 L115.0,358.0 L122.0,356.0 L128.0,357.0 L133.0,365.0 L135.0,380.0 L137.0,400.0 L141.0,480.0 L145.9,580.0 L148.3,643.5 L153.0,664.0 L160.2,659.4 L168.0,657.0 L172.0,659.4 L175.2,672.0 L180.0,673.7 L183.2,688.0 L187.1,686.3 L192.7,684.8 L196.7,666.5 L203.0,666.5 L211.0,663.3 L216.5,660.0 L220.5,657.8 L225.2,659.4 L231.6,656.2 L234.8,648.3 L241.0,643.5 L249.0,638.0 L257.0,634.0 L260.0,633.0 L265.0,624.4 L267.5,624.0 L275.0,610.5 L285.5,600.0 L293.0,594.0 L300.5,589.5 L305.0,586.5 L315.5,577.5 L320.0,579.0 L326.0,576.7 L332.0,586.5 L338.0,582.0 L341.7,579.0 L344.0,553.5 L350.0,552.0 L356.0,548.2 L365.0,543.7 L374.0,540.7 L382.2,537.7 L385.2,549.0 L390.5,551.2 L395.0,552.7 L397.2,540.0 L404.0,538.5 L411.5,536.2 L417.5,534.7 L419.7,555.0 L426.5,550.5 L435.5,544.5 L443.0,540.7 L452.0,540.7 L459.5,541.5 L469.0,535.7 L479.5,530.5 L483.2,529.0 L484.7,517.0 L490.0,518.5 L496.0,518.5 L500.5,514.0 L509.5,508.7 L520.0,505.0 L524.5,501.2 L535.0,497.5 L547.0,491.5 L559.0,484.7 L572.5,484.7 L577.0,481.7 L587.5,478.7 L598.0,473.5 L607.0,469.0 L617.5,463.0 L626.5,458.5 L630.2,470.5 L637.0,469.7 L641.5,467.5 L643.0,454.0 L650.5,449.5 L653.5,443.5 L658.0,440.5 L661.0,467.5 L662.7,490.6 L670.6,497.8 L673.8,495.4 L683.3,505.7 L686.5,479.5 L688.9,470.0 L691.3,462.2 L697.6,465.4 L700.8,470.0 L704.0,485.9 L710.3,503.3 L718.3,498.6 L727.8,493.8 L734.1,511.3 L742.1,536.7 L748.4,532.7 L756.3,526.3 L767.5,523.2 L777.0,517.6 L786.5,506.5 L792.9,497.0 L795.2,508.1 L805.6,505.7 L816.7,500.2 L820.6,489.0 L829.4,485.9 L839.7,480.3 L842.9,509.7 L846.0,552.5 L851.6,554.9 L856.3,509.7 L859.4,476.0 L870.9,472.6 L873.1,477.1 L883.4,473.1 L885.7,486.3 L893.7,482.9 L896.0,494.3 L907.4,493.1 L910.3,470.3 L920.0,470.9 L922.3,473.7 L924.6,466.9 L936.2,454.3 L948.9,447.9 L960.0,444.8 L971.1,443.2 L980.6,442.4 L987.0,445.6 L991.7,455.1 L998.1,456.7 L1002.9,445.6 L1005.2,461.4 L1015.6,451.1 L1017.9,435.2 L1029.8,431.3 L1042.5,426.5 L1056.8,419.4 L1060.0,443.2 L1061.6,470.2 L1069.5,474.9 L1072.7,447.9 L1073.1,426.9 L1077.9,423.3 L1083.8,421.0 L1092.1,416.2 L1095.7,418.0 L1107.6,408.5 L1117.1,409.6 L1119.5,430.5 L1130.2,428.1 L1132.6,405.5 L1143.3,404.9 L1150.5,408.5 L1157.6,411.4 L1167.1,403.7 L1174.3,400.1 L1182.6,397.1 L1188.6,398.3 L1189.8,413.8 L1192.0,416.9 L1197.5,427.1 L1203.0,425.5 L1206.9,401.1 L1210.9,395.6 L1221.9,392.5 L1233.6,387.8 L1236.0,413.7 L1239.1,418.4 L1247.0,419.2 L1250.1,388.6 L1258.0,387.0 L1270.6,383.9 L1283.1,380.7 L1295.7,375.2 L1302.8,372.9 L1305.1,391.7 L1316.1,369.7 L1317.7,350.9 L1325.6,341.4 L1330.3,338.3 L1333.4,347.7 L1335.8,388.6 L1338.9,410.6 L1342.8,420.0 L1347.6,420.0 L1352.3,429.4 L1358.6,438.9 L1360.9,412.1 L1363.3,379.1 L1366.4,383.9 L1372.7,391.7 L1379.0,399.6" fill="none" stroke="#5279c3" stroke-width="5" stroke-linejoin="round" stroke-linecap="butt"/>
<path d="M92.0,365.5 L101.7,367.0 L112.8,367.8 L123.9,367.8 L132.2,362.0 L134.5,357.0 L135.8,351.0 L137.5,340.0 L140.6,301.0 L144.7,245.5 L148.9,216.4 L153.0,210.8 L160.0,212.2 L167.0,215.6 L171.0,215.0 L175.3,210.8 L179.4,212.0 L182.8,202.5 L186.4,204.0 L192.0,203.3 L196.0,213.6 L204.4,213.6 L214.2,215.0 L219.7,220.5 L225.3,219.2 L232.2,218.3 L237.8,222.8 L247.5,228.0 L258.6,227.0 L265.6,230.0 L276.7,237.8 L287.8,240.8 L296.0,242.8 L307.2,248.3 L317.0,255.3 L323.9,256.7 L330.8,251.7 L339.2,256.7 L344.7,266.4 L354.4,269.2 L360.0,269.6 L372.9,273.9 L382.5,275.0 L384.6,271.1 L394.3,272.4 L397.5,276.7 L405.0,274.6 L417.9,277.1 L420.0,270.7 L426.4,272.9 L439.3,272.9 L452.1,277.1 L462.8,276.7 L473.6,279.3 L482.1,278.2 L485.3,281.9 L497.1,281.9 L502.5,284.6 L514.3,294.3 L520.7,293.2 L529.3,291.7 L544.3,294.3 L559.3,299.0 L574.3,299.0 L585.0,298.1 L595.7,299.6 L604.3,303.3 L617.1,306.7 L627.8,309.3 L631.0,307.1 L640.7,308.9 L645.0,312.5 L651.4,315.7 L658.2,321.9 L661.4,306.4 L665.7,302.1 L671.1,298.9 L675.4,300.0 L680.7,297.9 L683.9,294.6 L686.1,296.8 L689.3,307.5 L695.7,308.6 L702.1,313.3 L705.4,309.6 L712.9,305.4 L721.4,303.2 L727.9,308.1 L734.3,293.6 L741.8,275.4 L751.4,279.0 L756.8,282.9 L766.4,282.9 L768.6,281.8 L779.3,285.0 L785.7,291.4 L793.2,301.1 L798.6,298.9 L811.4,299.6 L817.9,296.1 L822.1,298.9 L826.4,298.9 L838.2,304.3 L840.3,306.4 L844.6,273.2 L847.8,272.1 L850.0,274.3 L852.8,270.0 L858.6,306.4 L865.0,303.2 L870.3,303.2 L872.5,298.9 L882.1,297.9 L886.4,293.6 L892.8,294.2 L897.1,293.6 L906.8,296.1 L911.1,302.1 L918.6,301.1 L922.9,300.0 L931.4,302.6 L944.3,301.1 L960.4,302.3 L963.0,305.0 L975.5,298.8 L986.3,307.1 L999.6,302.3 L1005.0,301.1 L1017.5,302.9 L1019.3,305.9 L1033.6,308.2 L1044.3,311.8 L1053.2,314.8 L1057.1,318.4 L1060.4,313.0 L1070.2,311.3 L1072.9,315.7 L1075.5,320.2 L1085.4,315.7 L1090.7,314.8 L1108.6,313.6 L1119.3,313.0 L1131.8,313.9 L1138.9,313.0 L1149.6,316.1 L1162.1,316.6 L1170.0,316.3 L1188.9,318.6 L1209.3,320.2 L1221.9,320.2 L1229.7,322.6 L1234.4,325.7 L1239.1,322.3 L1247.0,317.9 L1251.7,320.2 L1267.4,321.8 L1286.3,322.6 L1302.0,324.9 L1305.1,322.6 L1314.6,326.5 L1320.8,333.6 L1327.1,339.1 L1333.4,343.8 L1336.6,333.6 L1342.8,324.9 L1350.7,323.4 L1358.6,319.4 L1368.0,316.3 L1379.0,310.8" fill="none" stroke="#6fac4d" stroke-width="5" stroke-linejoin="round" stroke-linecap="butt"/>
<text x="381" y="50" font-size="30" font-weight="bold" textLength="638" lengthAdjust="spacingAndGlyphs">CAMBIO DE MOVILIDAD DE LA POBLACIÓN: PERÚ</text>
<text x="330" y="83" font-size="23.3" font-weight="bold" textLength="740.5" lengthAdjust="spacingAndGlyphs">(EN VAR. % PROMEDIO ÚLTIMOS 7 DÍAS RESPECTO A LA LÍNEA BASE)</text>
<text x="64.8" y="129.9" font-size="20.4" text-anchor="end" textLength="40.1" lengthAdjust="spacingAndGlyphs">60.0</text>
<text x="64.8" y="211.7" font-size="20.4" text-anchor="end" textLength="40.1" lengthAdjust="spacingAndGlyphs">40.0</text>
<text x="64.8" y="293.5" font-size="20.4" text-anchor="end" textLength="40.1" lengthAdjust="spacingAndGlyphs">20.0</text>
<text x="54.6" y="375.3" font-size="20.4" text-anchor="end">-</text>
<text x="64.8" y="457.1" font-size="20.4" text-anchor="end" textLength="48.2" lengthAdjust="spacingAndGlyphs">-20.0</text>
<text x="64.8" y="538.9" font-size="20.4" text-anchor="end" textLength="48.2" lengthAdjust="spacingAndGlyphs">-40.0</text>
<text x="64.8" y="620.7" font-size="20.4" text-anchor="end" textLength="48.2" lengthAdjust="spacingAndGlyphs">-60.0</text>
<text x="64.8" y="702.5" font-size="20.4" text-anchor="end" textLength="48.2" lengthAdjust="spacingAndGlyphs">-80.0</text>
<text x="64.8" y="784.3" font-size="20.4" text-anchor="end" textLength="59.5" lengthAdjust="spacingAndGlyphs">-100.0</text>
<text transform="translate(100.8,792.9) rotate(-90)" font-size="19.3" text-anchor="end" textLength="111.6" lengthAdjust="spacingAndGlyphs">21/02/2020</text>
<text transform="translate(154.4,792.9) rotate(-90)" font-size="19.3" text-anchor="end" textLength="111.6" lengthAdjust="spacingAndGlyphs">21/03/2020</text>
<text transform="translate(211.6,792.9) rotate(-90)" font-size="19.3" text-anchor="end" textLength="111.6" lengthAdjust="spacingAndGlyphs">21/04/2020</text>
<text transform="translate(267.0,792.9) rotate(-90)" font-size="19.3" text-anchor="end" textLength="111.6" lengthAdjust="spacingAndGlyphs">21/05/2020</text>
<text transform="translate(324.2,792.9) rotate(-90)" font-size="19.3" text-anchor="end" textLength="111.6" lengthAdjust="spacingAndGlyphs">21/06/2020</text>
<text transform="translate(379.6,792.9) rotate(-90)" font-size="19.3" text-anchor="end" textLength="111.6" lengthAdjust="spacingAndGlyphs">21/07/2020</text>
<text transform="translate(436.9,792.9) rotate(-90)" font-size="19.3" text-anchor="end" textLength="111.6" lengthAdjust="spacingAndGlyphs">21/08/2020</text>
<text transform="translate(494.1,792.9) rotate(-90)" font-size="19.3" text-anchor="end" textLength="111.6" lengthAdjust="spacingAndGlyphs">21/09/2020</text>
<text transform="translate(549.5,792.9) rotate(-90)" font-size="19.3" text-anchor="end" textLength="111.6" lengthAdjust="spacingAndGlyphs">21/10/2020</text>
<text transform="translate(606.8,792.9) rotate(-90)" font-size="19.3" text-anchor="end" textLength="111.6" lengthAdjust="spacingAndGlyphs">21/11/2020</text>
<text transform="translate(662.2,792.9) rotate(-90)" font-size="19.3" text-anchor="end" textLength="111.6" lengthAdjust="spacingAndGlyphs">21/12/2020</text>
<text transform="translate(719.4,792.9) rotate(-90)" font-size="19.3" text-anchor="end" textLength="111.6" lengthAdjust="spacingAndGlyphs">21/01/2021</text>
<text transform="translate(776.7,792.9) rotate(-90)" font-size="19.3" text-anchor="end" textLength="111.6" lengthAdjust="spacingAndGlyphs">21/02/2021</text>
<text transform="translate(828.4,792.9) rotate(-90)" font-size="19.3" text-anchor="end" textLength="111.6" lengthAdjust="spacingAndGlyphs">21/03/2021</text>
<text transform="translate(885.6,792.9) rotate(-90)" font-size="19.3" text-anchor="end" textLength="111.6" lengthAdjust="spacingAndGlyphs">21/04/2021</text>
<text transform="translate(941.0,792.9) rotate(-90)" font-size="19.3" text-anchor="end" textLength="111.6" lengthAdjust="spacingAndGlyphs">21/05/2021</text>
<text transform="translate(998.3,792.9) rotate(-90)" font-size="19.3" text-anchor="end" textLength="111.6" lengthAdjust="spacingAndGlyphs">21/06/2021</text>
<text transform="translate(1053.7,792.9) rotate(-90)" font-size="19.3" text-anchor="end" textLength="111.6" lengthAdjust="spacingAndGlyphs">21/07/2021</text>
<text transform="translate(1110.9,792.9) rotate(-90)" font-size="19.3" text-anchor="end" textLength="111.6" lengthAdjust="spacingAndGlyphs">21/08/2021</text>
<text transform="translate(1168.1,792.9) rotate(-90)" font-size="19.3" text-anchor="end" textLength="111.6" lengthAdjust="spacingAndGlyphs">21/09/2021</text>
<text transform="translate(1223.5,792.9) rotate(-90)" font-size="19.3" text-anchor="end" textLength="111.6" lengthAdjust="spacingAndGlyphs">21/10/2021</text>
<text transform="translate(1280.8,792.9) rotate(-90)" font-size="19.3" text-anchor="end" textLength="111.6" lengthAdjust="spacingAndGlyphs">21/11/2021</text>
<text transform="translate(1336.2,792.9) rotate(-90)" font-size="19.3" text-anchor="end" textLength="111.6" lengthAdjust="spacingAndGlyphs">21/12/2021</text>
<line x1="714.9" y1="165.7" x2="765.4" y2="165.7" stroke="#5b9bd5" stroke-width="4" stroke-linecap="round"/>
<text x="771.3" y="171.2" font-size="16.6" textLength="108.9" lengthAdjust="spacingAndGlyphs">Tiendas y ocio</text>
<line x1="714.9" y1="203.4" x2="765.4" y2="203.4" stroke="#a4a4a4" stroke-width="4" stroke-linecap="round"/>
<text x="771.3" y="208.9" font-size="16.6" textLength="61.7" lengthAdjust="spacingAndGlyphs">Parques</text>
<line x1="714.9" y1="240.8" x2="765.4" y2="240.8" stroke="#5279c3" stroke-width="4" stroke-linecap="round"/>
<text x="771.3" y="245.9" font-size="16.6" textLength="143.5" lengthAdjust="spacingAndGlyphs">Lugares de trabajo</text>
<line x1="1071.5" y1="165.7" x2="1121" y2="165.7" stroke="#e6854a" stroke-width="4" stroke-linecap="round"/>
<text x="1127.5" y="171.2" font-size="16.6" textLength="213.2" lengthAdjust="spacingAndGlyphs">Supermercados y farmacias</text>
<line x1="1071.5" y1="203.4" x2="1121" y2="203.4" stroke="#eab824" stroke-width="4" stroke-linecap="round"/>
<text x="1127.5" y="208.9" font-size="16.6" textLength="253.5" lengthAdjust="spacingAndGlyphs">Estaciones de transporte público</text>
<line x1="1071.5" y1="240.8" x2="1121" y2="240.8" stroke="#6fac4d" stroke-width="4" stroke-linecap="round"/>
<text x="1127.5" y="245.9" font-size="16.6" textLength="150.0" lengthAdjust="spacingAndGlyphs">Zonas residenciales</text>
<text x="48.9" y="959.9" font-size="20.5" font-weight="bold" textLength="146.6" lengthAdjust="spacingAndGlyphs">Fuente: Google</text>
<text x="48.9" y="988.2" font-size="20.5" font-weight="bold" textLength="221.1" lengthAdjust="spacingAndGlyphs">Elaboración: GEE - AAP</text>
<text x="787.8" y="957" font-size="19.2" textLength="319.9" lengthAdjust="spacingAndGlyphs">* Información al 17 de enero de 2022.</text>
<text x="787.8" y="982.3" font-size="19.2" textLength="584.8" lengthAdjust="spacingAndGlyphs">** Línea de base: periodo entre el 3 de enero y 6 de febrero de 2020.</text>
<rect x="0" y="0" width="1400" height="1" fill="#aaaaaa"/>
<rect x="0" y="0" width="1" height="1008" fill="#4a4a4a"/>
<rect x="0" y="1007" width="1400" height="1" fill="#b0b0b0"/>
</svg>
</body></html>
